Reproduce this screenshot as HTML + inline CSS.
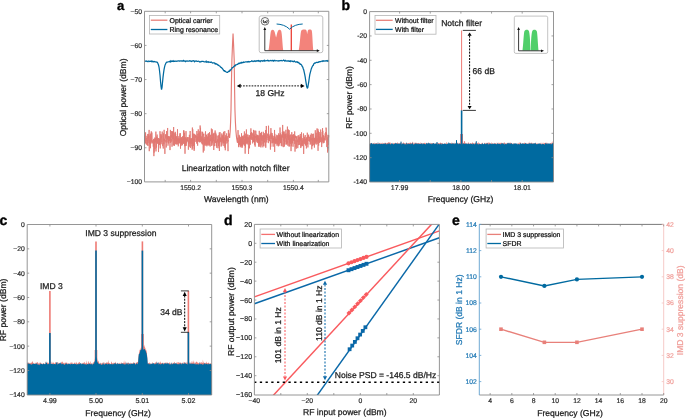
<!DOCTYPE html>
<html><head><meta charset="utf-8"><style>
html,body{margin:0;padding:0;background:#fff;}
svg{display:block;will-change:transform;}
text{font-family:"Liberation Sans", sans-serif;text-rendering:geometricPrecision;}
</style></head><body>
<svg width="685" height="418" viewBox="0 0 685 418">
<rect width="685" height="418" fill="#fff"/>
<text x="116.9" y="10.1" font-size="13" font-weight="bold" fill="#000" stroke="#000" stroke-width="0.35">a</text>
<path d="M144.5 138.4 L144.63 141.56 L144.75 135.66 L144.88 138.62 L145 143.76 L145.13 140.55 L145.25 132.71 L145.38 143.07 L145.5 132.65 L145.63 132.45 L145.75 140.87 L145.88 139.45 L146 140.92 L146.13 141.3 L146.25 141.98 L146.38 144.63 L146.5 138.33 L146.63 139.33 L146.75 137.95 L146.88 135.88 L147 136.52 L147.13 140.86 L147.25 140.07 L147.38 145.25 L147.5 139.49 L147.63 136.59 L147.75 133.96 L147.88 143.39 L148 145.92 L148.13 141.53 L148.25 142.59 L148.38 137.58 L148.5 136.15 L148.63 137.96 L148.75 134.19 L148.88 141.17 L149 132.42 L149.13 129.91 L149.25 151.18 L149.38 144.29 L149.5 141.37 L149.63 141.29 L149.75 140.42 L149.88 144.47 L150 135.49 L150.13 142.06 L150.25 142.63 L150.38 137.98 L150.5 148.21 L150.63 133.67 L150.75 140.89 L150.88 143.54 L151 140.57 L151.13 140.99 L151.25 131.37 L151.38 136.56 L151.5 136.14 L151.63 136.56 L151.75 142.3 L151.88 132.55 L152 139.23 L152.13 141.93 L152.25 143.37 L152.38 141.99 L152.5 140.94 L152.63 140.9 L152.75 140.28 L152.88 141.62 L153 142.79 L153.13 143.46 L153.25 146.68 L153.38 146.54 L153.5 139.27 L153.63 141.19 L153.75 140.32 L153.88 156.13 L154 138.79 L154.13 152.56 L154.25 149.19 L154.38 140 L154.5 139.45 L154.63 142.97 L154.75 141.8 L154.88 137.54 L155 149.14 L155.13 140.41 L155.25 140.99 L155.38 138.25 L155.5 142.15 L155.63 141.38 L155.75 137.58 L155.88 131.61 L156 151.4 L156.13 140.46 L156.25 141.62 L156.38 143.92 L156.5 147.6 L156.63 136.63 L156.75 141.77 L156.88 139.6 L157 142.62 L157.13 134.55 L157.25 142.14 L157.38 137.67 L157.5 137.94 L157.63 143.77 L157.75 142.26 L157.88 143.1 L158 142.03 L158.13 139.06 L158.25 139.12 L158.38 138.03 L158.5 152.06 L158.63 142.17 L158.75 145.19 L158.88 139.41 L159 141.93 L159.13 144.19 L159.25 138.43 L159.38 139.5 L159.5 144.37 L159.63 139.07 L159.75 144.64 L159.88 138.67 L160 131.22 L160.13 140.07 L160.25 148.4 L160.38 141.22 L160.5 140.21 L160.63 135.84 L160.75 134.24 L160.88 138.52 L161 140.99 L161.13 144.24 L161.25 134.51 L161.38 138.28 L161.5 137.18 L161.63 137.7 L161.75 136.01 L161.88 142.32 L162 138.17 L162.13 132.82 L162.25 131.62 L162.38 137.15 L162.5 143.92 L162.63 143.76 L162.75 146.14 L162.88 143.36 L163.01 144.31 L163.13 145.98 L163.26 148.54 L163.38 133.35 L163.51 136.73 L163.63 143.34 L163.76 142.79 L163.88 144.17 L164.01 141.64 L164.13 129.82 L164.26 139.66 L164.38 140.65 L164.51 138.85 L164.63 140.2 L164.76 142.19 L164.88 153.89 L165.01 139.97 L165.13 142.36 L165.26 141.53 L165.38 137.29 L165.51 134.4 L165.63 137.39 L165.76 138.46 L165.88 136.08 L166.01 135.15 L166.13 134.51 L166.26 147.47 L166.38 143.3 L166.51 131.1 L166.63 136.86 L166.76 136.92 L166.88 139.37 L167.01 142.47 L167.13 140.69 L167.26 140.02 L167.38 136.4 L167.51 139.32 L167.63 127.98 L167.76 137.2 L167.88 138.87 L168.01 145.63 L168.13 144.36 L168.26 141.72 L168.38 136.09 L168.51 143.34 L168.63 139.17 L168.76 136.82 L168.88 136.4 L169.01 140.6 L169.13 140.65 L169.26 140.39 L169.38 140.95 L169.51 137.86 L169.63 136.51 L169.76 137.11 L169.88 140.02 L170.01 150.08 L170.13 136.77 L170.26 142.82 L170.38 129.88 L170.51 134.56 L170.63 140.1 L170.76 142.53 L170.88 139.41 L171.01 140.14 L171.13 139.51 L171.26 134.96 L171.38 136.69 L171.51 137.47 L171.63 131.02 L171.76 141.57 L171.88 139.01 L172.01 146.73 L172.13 141.34 L172.26 138.46 L172.38 131.75 L172.51 131.43 L172.63 138.99 L172.76 131.72 L172.88 134.83 L173.01 139.33 L173.13 140.22 L173.26 145.36 L173.38 143.97 L173.51 134.85 L173.63 127.01 L173.76 139.14 L173.88 134.35 L174.01 145.33 L174.13 141.9 L174.26 138.55 L174.38 145.8 L174.51 143.94 L174.63 138.49 L174.76 136.38 L174.88 132.82 L175.01 141.27 L175.13 140.32 L175.26 131.84 L175.38 144.25 L175.51 136.29 L175.63 133.71 L175.76 134.71 L175.88 138.8 L176.01 141.43 L176.13 137.6 L176.26 143.82 L176.38 139.81 L176.51 136.24 L176.63 140.35 L176.76 140.67 L176.88 144.6 L177.01 141.46 L177.13 138.74 L177.26 144.23 L177.38 135.23 L177.51 129.22 L177.63 139.51 L177.76 138.71 L177.88 141.59 L178.01 139.59 L178.13 139.27 L178.26 146.32 L178.38 145.92 L178.51 138.54 L178.63 143.37 L178.76 136.26 L178.88 137.5 L179.01 141.39 L179.13 140.16 L179.26 142.46 L179.38 138.4 L179.51 141.09 L179.63 143.33 L179.76 141.86 L179.88 134.32 L180.01 133.46 L180.13 137.71 L180.26 133.19 L180.38 141.81 L180.51 148.68 L180.63 142.6 L180.76 137.86 L180.88 142.66 L181.01 139.42 L181.13 145.79 L181.26 137.87 L181.39 141.37 L181.51 143.85 L181.64 137.19 L181.76 144.36 L181.89 139.79 L182.01 143.06 L182.14 141.94 L182.26 139.65 L182.39 145.25 L182.51 136.33 L182.64 142.17 L182.76 139.2 L182.89 141.23 L183.01 143.4 L183.14 143.45 L183.26 140.7 L183.39 143.2 L183.51 130.44 L183.64 143.43 L183.76 141.08 L183.89 140.19 L184.01 130.51 L184.14 140.97 L184.26 143.75 L184.39 132.9 L184.51 141.92 L184.64 141.58 L184.76 146.21 L184.89 137.73 L185.01 153.74 L185.14 141.47 L185.26 145.27 L185.39 137.25 L185.51 140.04 L185.64 145.93 L185.76 144.62 L185.89 142.24 L186.01 131.14 L186.14 145.58 L186.26 145.8 L186.39 138.59 L186.51 140.39 L186.64 143.17 L186.76 139.78 L186.89 140.89 L187.01 137.31 L187.14 141.6 L187.26 140.23 L187.39 141.13 L187.51 138.94 L187.64 137.57 L187.76 137.26 L187.89 139.95 L188.01 141.29 L188.14 137.33 L188.26 137.19 L188.39 149.7 L188.51 140.7 L188.64 144.17 L188.76 142.45 L188.89 143.21 L189.01 140.78 L189.14 140.97 L189.26 146.73 L189.39 134.82 L189.51 143.21 L189.64 138.34 L189.76 139.83 L189.89 138.8 L190.01 137.24 L190.14 130.99 L190.26 133.7 L190.39 147.99 L190.51 140.77 L190.64 143.45 L190.76 138.53 L190.89 140.24 L191.01 142.03 L191.14 138.36 L191.26 143.79 L191.39 140.42 L191.51 140.66 L191.64 139.86 L191.76 139.27 L191.89 146.34 L192.01 138.08 L192.14 149.71 L192.26 138.74 L192.39 127.55 L192.51 144.47 L192.64 148.41 L192.76 129.24 L192.89 140.97 L193.01 139.32 L193.14 143.68 L193.26 142.33 L193.39 146.02 L193.51 140.06 L193.64 133.69 L193.76 134.59 L193.89 144.66 L194.01 139.23 L194.14 150.85 L194.26 133.86 L194.39 149.32 L194.51 138.92 L194.64 140.77 L194.76 137.92 L194.89 134.7 L195.01 134.53 L195.14 134.76 L195.26 137.88 L195.39 137.14 L195.51 135.29 L195.64 137.27 L195.76 138.91 L195.89 141.92 L196.01 135.61 L196.14 137.08 L196.26 135.81 L196.39 138.63 L196.51 140.65 L196.64 138.62 L196.76 143.6 L196.89 131.03 L197.01 140.61 L197.14 140.46 L197.26 142.21 L197.39 136.93 L197.51 138.15 L197.64 145.68 L197.76 133.87 L197.89 135.31 L198.01 140.28 L198.14 140.67 L198.26 129.38 L198.39 136.24 L198.51 139.88 L198.64 141.72 L198.76 137.04 L198.89 138 L199.01 132.86 L199.14 136.6 L199.26 136.99 L199.39 134.43 L199.51 141.78 L199.64 137.35 L199.76 131.28 L199.89 142.47 L200.02 140.51 L200.14 125.49 L200.27 131.6 L200.39 141.84 L200.52 127.75 L200.64 138.92 L200.77 139.82 L200.89 137.37 L201.02 136.02 L201.14 138.25 L201.27 140.07 L201.39 137.43 L201.52 140.97 L201.64 137.75 L201.77 142.97 L201.89 137.6 L202.02 131.55 L202.14 144.07 L202.27 142.17 L202.39 144.42 L202.52 142.72 L202.64 132 L202.77 134.35 L202.89 141.27 L203.02 138.48 L203.14 144.95 L203.27 152.5 L203.39 135.75 L203.52 134.19 L203.64 135.37 L203.77 133.67 L203.89 141.04 L204.02 150.7 L204.14 139.9 L204.27 139.11 L204.39 145.41 L204.52 140.48 L204.64 142.7 L204.77 136.89 L204.89 139.3 L205.02 144.19 L205.14 140.05 L205.27 139.43 L205.39 133.77 L205.52 131.38 L205.64 145.63 L205.77 145.31 L205.89 138.52 L206.02 143.44 L206.14 138.17 L206.27 142.41 L206.39 144.98 L206.52 134.7 L206.64 144.35 L206.77 137.64 L206.89 146.29 L207.02 141.32 L207.14 137.54 L207.27 138.44 L207.39 139.96 L207.52 144.66 L207.64 136.58 L207.77 139.45 L207.89 137.05 L208.02 133.76 L208.14 145.51 L208.27 140.53 L208.39 137.84 L208.52 133.39 L208.64 143.7 L208.77 135.78 L208.89 137.42 L209.02 142.27 L209.14 145.35 L209.27 139.18 L209.39 145.19 L209.52 132.15 L209.64 136.35 L209.77 136.16 L209.89 136.54 L210.02 141.46 L210.14 146.52 L210.27 138.33 L210.39 141.08 L210.52 134.84 L210.64 136.86 L210.77 137.45 L210.89 140 L211.02 140.76 L211.14 141.18 L211.27 140.56 L211.39 128.56 L211.52 136.25 L211.64 138.34 L211.77 145.98 L211.89 137.28 L212.02 144.73 L212.14 141.27 L212.27 129.34 L212.39 142.49 L212.52 141.67 L212.64 142.12 L212.77 135.27 L212.89 134.19 L213.02 139.65 L213.14 141.3 L213.27 139.99 L213.39 139.66 L213.52 133.54 L213.64 141.61 L213.77 150.02 L213.89 142.02 L214.02 137.52 L214.14 132.77 L214.27 136.1 L214.39 138.8 L214.52 139.71 L214.64 146.14 L214.77 140.82 L214.89 139.82 L215.02 139.95 L215.14 130.48 L215.27 143.03 L215.39 137.87 L215.52 136.09 L215.64 135.78 L215.77 132.7 L215.89 141.91 L216.02 134.34 L216.14 142.96 L216.27 141.8 L216.39 146.01 L216.52 141.05 L216.64 141.22 L216.77 147.83 L216.89 142.35 L217.02 136.26 L217.14 135.76 L217.27 137.21 L217.39 138.4 L217.52 141.67 L217.64 139.55 L217.77 142.34 L217.89 139.84 L218.02 148.27 L218.14 142.21 L218.27 143.14 L218.4 135.34 L218.52 146.14 L218.65 144.48 L218.77 139.75 L218.9 140.89 L219.02 139.66 L219.15 136.65 L219.27 132.48 L219.4 150.99 L219.52 133.97 L219.65 143.21 L219.77 137.68 L219.9 139.78 L220.02 132.14 L220.15 138.17 L220.27 140.81 L220.4 140.37 L220.52 141.17 L220.65 137.9 L220.77 141.96 L220.9 137.61 L221.02 141.77 L221.15 146.56 L221.27 139.25 L221.4 139.07 L221.52 141.65 L221.65 134.7 L221.77 133.5 L221.9 145.59 L222.02 143.03 L222.15 140.7 L222.27 136.24 L222.4 140.2 L222.52 135.32 L222.65 141.43 L222.77 137.89 L222.9 137.15 L223.02 143.49 L223.15 135.1 L223.27 133.57 L223.4 142.76 L223.52 131.8 L223.65 142.09 L223.77 138.03 L223.9 146.1 L224.02 141.75 L224.15 142.58 L224.27 141.93 L224.4 143.07 L224.52 139.7 L224.65 138.06 L224.77 131.13 L224.9 147.74 L225.02 137.4 L225.15 140.95 L225.27 150.25 L225.4 143.75 L225.52 138.14 L225.65 135.27 L225.77 143.29 L225.9 144.11 L226.02 143.39 L226.15 137.36 L226.27 137.12 L226.4 141.11 L226.52 140.65 L226.65 133.38 L226.77 136.82 L226.9 136.14 L227.02 143.12 L227.15 142.08 L227.27 137.46 L227.4 137.32 L227.52 136.53 L227.65 136.64 L227.77 141.98 L227.9 144.98 L228.02 151.13 L228.15 140.21 L228.27 141.42 L228.4 129.93 L228.52 134.9 L228.65 137.14 L228.77 134.5 L228.9 133.52" stroke="#e27771" stroke-width="0.85" fill="none"/>
<path d="M237.4 142.42 L237.53 138.87 L237.65 139.95 L237.78 137.72 L237.9 142.9 L238.03 130.12 L238.15 134.28 L238.28 142.91 L238.4 140.97 L238.53 146.57 L238.65 141.36 L238.78 147.18 L238.9 144.85 L239.03 145.14 L239.15 134.83 L239.28 141.03 L239.4 136.5 L239.53 144.72 L239.65 136.72 L239.78 140.77 L239.9 142.03 L240.03 136.8 L240.15 137.91 L240.28 142.36 L240.4 146.73 L240.53 140.3 L240.65 138.71 L240.78 144.66 L240.9 138.14 L241.03 136.98 L241.15 147.47 L241.28 142.99 L241.4 145.22 L241.53 133.24 L241.65 146.05 L241.78 138.56 L241.9 142.23 L242.03 142.71 L242.15 145.48 L242.28 147.67 L242.4 144.76 L242.53 136.88 L242.65 146.11 L242.78 135.98 L242.9 138.68 L243.03 135.75 L243.15 144.34 L243.28 136.98 L243.4 143.56 L243.53 144.18 L243.65 143.45 L243.78 144.28 L243.9 140.84 L244.03 140.18 L244.15 134.94 L244.28 138.22 L244.4 131.45 L244.53 145.65 L244.65 139.91 L244.78 139.82 L244.9 143.91 L245.03 139.04 L245.15 153.68 L245.28 141.42 L245.4 136.27 L245.53 147.5 L245.65 133.63 L245.78 139.45 L245.9 135.97 L246.03 143.01 L246.15 142.53 L246.28 136.88 L246.4 129.44 L246.53 140.11 L246.65 138.81 L246.78 143.68 L246.9 135.79 L247.03 135.15 L247.15 144.4 L247.28 137.13 L247.4 143.17 L247.53 140.61 L247.65 136.54 L247.78 134.43 L247.9 136.2 L248.03 136.61 L248.15 139.26 L248.28 137.87 L248.4 140.58 L248.53 154 L248.65 145.53 L248.78 137.31 L248.9 141.57 L249.03 135.22 L249.15 137.17 L249.28 142.01 L249.4 141.56 L249.53 148.3 L249.65 142.25 L249.78 135.26 L249.9 144.27 L250.03 140.57 L250.15 144.81 L250.28 139.61 L250.4 138.41 L250.53 133.1 L250.65 139.26 L250.78 138.18 L250.9 128.39 L251.03 138.47 L251.15 139.75 L251.28 137.37 L251.4 138.14 L251.53 132.09 L251.65 135.47 L251.78 135.24 L251.9 139.6 L252.03 132.75 L252.15 135.4 L252.28 133.66 L252.4 139.45 L252.53 137.29 L252.65 143.37 L252.78 141.13 L252.9 138.65 L253.03 137.58 L253.15 136.06 L253.28 135.02 L253.4 141.78 L253.53 129.91 L253.65 139.12 L253.78 140.87 L253.9 141.17 L254.03 136.16 L254.15 142.11 L254.28 134.51 L254.4 142.38 L254.53 136.73 L254.65 145.19 L254.78 130.54 L254.9 134.41 L255.03 141.75 L255.16 146.66 L255.28 141.18 L255.41 136.16 L255.53 137.66 L255.66 135.44 L255.78 130.71 L255.91 132.09 L256.03 136.56 L256.16 141.68 L256.28 137.68 L256.41 136.18 L256.53 139.48 L256.66 140.03 L256.78 134.43 L256.91 139.22 L257.03 135.82 L257.16 142.49 L257.28 135.44 L257.41 139.71 L257.53 141.17 L257.66 135.22 L257.78 142.65 L257.91 139.35 L258.03 139.59 L258.16 143.14 L258.28 142.14 L258.41 135.45 L258.53 145.8 L258.66 146.7 L258.78 137.98 L258.91 137.94 L259.03 145.55 L259.16 139.24 L259.28 130.87 L259.41 141.06 L259.53 139.02 L259.66 143.33 L259.78 140 L259.91 146.84 L260.03 135.39 L260.16 136.65 L260.28 139.54 L260.41 132.89 L260.53 135.96 L260.66 134.76 L260.78 141.03 L260.91 147.41 L261.03 138.08 L261.16 145.5 L261.28 133.11 L261.41 139.67 L261.53 131.92 L261.66 140.35 L261.78 138.97 L261.91 136.65 L262.03 135.08 L262.16 141.04 L262.28 140.4 L262.41 135.69 L262.53 138.46 L262.66 137.88 L262.78 137.58 L262.91 147.32 L263.03 140.27 L263.16 143.92 L263.28 131.79 L263.41 145.9 L263.53 143.57 L263.66 134.61 L263.78 139.28 L263.91 136.61 L264.03 136.55 L264.16 137.02 L264.28 133.13 L264.41 137.77 L264.53 142.42 L264.66 140.2 L264.78 135.1 L264.91 134.56 L265.03 146.31 L265.16 146.41 L265.28 141.31 L265.41 134.94 L265.53 138.76 L265.66 130.02 L265.78 147.79 L265.91 141.1 L266.03 140.29 L266.16 137.85 L266.28 126.12 L266.41 125.97 L266.53 140.29 L266.66 140.13 L266.78 142.45 L266.91 136.42 L267.03 137.48 L267.16 137.82 L267.28 135.85 L267.41 134.78 L267.53 135.49 L267.66 133.64 L267.78 134.38 L267.91 139.02 L268.03 140.03 L268.16 138.36 L268.28 137.26 L268.41 143.12 L268.53 125.74 L268.66 130.45 L268.78 139.91 L268.91 140.64 L269.03 135.32 L269.16 138.43 L269.28 138.55 L269.41 136.72 L269.53 138.61 L269.66 141.22 L269.78 136.15 L269.91 138.88 L270.03 137.43 L270.16 133.99 L270.28 139.09 L270.41 149.58 L270.53 140.36 L270.66 141.47 L270.78 146.82 L270.91 128.13 L271.03 136.48 L271.16 132.74 L271.28 138.16 L271.41 138.84 L271.53 137.89 L271.66 135.81 L271.78 139.13 L271.91 142.75 L272.03 143.35 L272.16 133.11 L272.28 136.22 L272.41 142.99 L272.53 137.7 L272.66 135.21 L272.78 138.62 L272.91 137.69 L273.03 141.89 L273.16 146.68 L273.28 138.47 L273.41 140.14 L273.54 138.26 L273.66 142.23 L273.79 138.15 L273.91 136.09 L274.04 143.22 L274.16 138.59 L274.29 139.42 L274.41 141.06 L274.54 129.96 L274.66 151.93 L274.79 133.82 L274.91 138.07 L275.04 136.55 L275.16 137.26 L275.29 137.37 L275.41 142.74 L275.54 138.51 L275.66 143.55 L275.79 143.33 L275.91 139.02 L276.04 144.12 L276.16 141.11 L276.29 141.09 L276.41 138.84 L276.54 142.55 L276.66 142.58 L276.79 134.82 L276.91 141.53 L277.04 145.73 L277.16 136.08 L277.29 136.58 L277.41 140.45 L277.54 144.41 L277.66 143.39 L277.79 139.86 L277.91 135.1 L278.04 137.91 L278.16 137.58 L278.29 146.33 L278.41 142.61 L278.54 136.36 L278.66 133.33 L278.79 142.01 L278.91 146.04 L279.04 137.83 L279.16 135.83 L279.29 144.44 L279.41 141.65 L279.54 135.04 L279.66 139.78 L279.79 134.84 L279.91 141.31 L280.04 127.49 L280.16 135.32 L280.29 136.97 L280.41 133.19 L280.54 142.96 L280.66 136.14 L280.79 142.49 L280.91 138.3 L281.04 143.31 L281.16 136.21 L281.29 145.83 L281.41 136.88 L281.54 140.22 L281.66 134.49 L281.79 136.82 L281.91 135.74 L282.04 146.32 L282.16 140.47 L282.29 131.92 L282.41 134.8 L282.54 137.29 L282.66 124.95 L282.79 135.66 L282.91 137.54 L283.04 135.4 L283.16 133.21 L283.29 147.13 L283.41 142.32 L283.54 141.39 L283.66 131.52 L283.79 135.26 L283.91 133.69 L284.04 141.12 L284.16 131.59 L284.29 137.56 L284.41 146.56 L284.54 137.91 L284.66 143.88 L284.79 135.05 L284.91 142.17 L285.04 136.11 L285.16 134.02 L285.29 138.5 L285.41 135.02 L285.54 134.75 L285.66 138.02 L285.79 137.88 L285.91 129.8 L286.04 144.65 L286.16 133.53 L286.29 135.59 L286.41 135.67 L286.54 137.65 L286.66 144.05 L286.79 138.58 L286.91 142.49 L287.04 144.42 L287.16 141.03 L287.29 143.01 L287.41 126.61 L287.54 137.23 L287.66 137.77 L287.79 134.85 L287.91 145.78 L288.04 143.76 L288.16 134.71 L288.29 139.81 L288.41 129.53 L288.54 133.38 L288.66 138.53 L288.79 139.75 L288.91 135.04 L289.04 146.57 L289.16 130.19 L289.29 132.25 L289.41 138.68 L289.54 142.56 L289.66 135.45 L289.79 146.28 L289.91 138.59 L290.04 141.01 L290.16 141.82 L290.29 137.88 L290.41 134.52 L290.54 137.63 L290.66 143.96 L290.79 143.84 L290.91 139.69 L291.04 151.13 L291.16 137.19 L291.29 140.5 L291.41 137.54 L291.54 146.23 L291.66 142.33 L291.79 132.16 L291.91 137.83 L292.04 134.6 L292.17 143.16 L292.29 137.07 L292.42 142.92 L292.54 143.26 L292.67 135.22 L292.79 136.52 L292.92 140.53 L293.04 146.69 L293.17 135.47 L293.29 137.76 L293.42 135.72 L293.54 134.21 L293.67 140.86 L293.79 139.99 L293.92 137.66 L294.04 137.02 L294.17 135.28 L294.29 138.73 L294.42 139.07 L294.54 140.88 L294.67 131.42 L294.79 143.93 L294.92 140.23 L295.04 151.62 L295.17 136.89 L295.29 135.61 L295.42 137.93 L295.54 135.98 L295.67 137.15 L295.79 137.08 L295.92 138.34 L296.04 147.38 L296.17 140.14 L296.29 148.69 L296.42 137.41 L296.54 137.12 L296.67 138.46 L296.79 136.06 L296.92 139.06 L297.04 139.33 L297.17 138.94 L297.29 140.42 L297.42 142.19 L297.54 140.18 L297.67 141.56 L297.79 148.14 L297.92 137.96 L298.04 135.53 L298.17 139.06 L298.29 141.18 L298.42 145.15 L298.54 136.81 L298.67 136.39 L298.79 136.29 L298.92 135.14 L299.04 141.72 L299.17 139.7 L299.29 138.41 L299.42 139.3 L299.54 144.83 L299.67 136.72 L299.79 138.89 L299.92 137.42 L300.04 141.23 L300.17 138.18 L300.29 133.95 L300.42 135.43 L300.54 139.45 L300.67 137.3 L300.79 148.04 L300.92 136.17 L301.04 146.5 L301.17 142.95 L301.29 145.33 L301.42 140.83 L301.54 132.37 L301.67 138.3 L301.79 142.25 L301.92 142.21 L302.04 146.18 L302.17 138.09 L302.29 144.3 L302.42 140.75 L302.54 140.49 L302.67 145.88 L302.79 143.55 L302.92 143.97 L303.04 143.3 L303.17 139.81 L303.29 140.19 L303.42 133.69 L303.54 133.47 L303.67 153.96 L303.79 142.64 L303.92 139.66 L304.04 142.94 L304.17 142.67 L304.29 139.34 L304.42 140.29 L304.54 136.83 L304.67 138.81 L304.79 144.05 L304.92 141.99 L305.04 137.87 L305.17 135.26 L305.29 135.06 L305.42 145.04 L305.54 138.92 L305.67 138.89 L305.79 145.7 L305.92 142.85 L306.04 144.36 L306.17 144.84 L306.29 141.67 L306.42 148.43 L306.54 140.71 L306.67 137.59 L306.79 142.09 L306.92 137.3 L307.04 142.35 L307.17 144.66 L307.29 132.69 L307.42 135.63 L307.54 142.42 L307.67 143.69 L307.79 142.41 L307.92 147.45 L308.04 136.1 L308.17 135.08 L308.29 135.42 L308.42 137.87 L308.54 138.34 L308.67 134.64 L308.79 141.22 L308.92 141.23 L309.04 139.84 L309.17 138.84 L309.29 141.03 L309.42 136.74 L309.54 138.38 L309.67 138.82 L309.79 141.64 L309.92 138.49 L310.04 139.79 L310.17 144.55 L310.29 143.19 L310.42 137.57 L310.55 139.35 L310.67 134.87 L310.8 139.84 L310.92 144.23 L311.05 142.23 L311.17 138.72 L311.3 133.5 L311.42 139.87 L311.55 138.31 L311.67 145.11 L311.8 149.3 L311.92 144.76 L312.05 145.48 L312.17 139.59 L312.3 140.58 L312.42 138.06 L312.55 146.13 L312.67 133.98 L312.8 134.24 L312.92 141.66 L313.05 138.13 L313.17 140.44 L313.3 133.71 L313.42 135.18 L313.55 144.64 L313.67 145.19 L313.8 141.3 L313.92 140.42 L314.05 137.85 L314.17 139.64 L314.3 142.38 L314.42 147.61 L314.55 138.66 L314.67 141.69 L314.8 144.39 L314.92 137.9 L315.05 141.11 L315.17 136.77 L315.3 130.28 L315.42 142.3 L315.55 143.39 L315.67 141.97 L315.8 139.99 L315.92 135.75 L316.05 142.28 L316.17 132.81 L316.3 144.49 L316.42 137.93 L316.55 141.79 L316.67 141.66 L316.8 139.91 L316.92 135.61 L317.05 128.42 L317.17 138.75 L317.3 139.87 L317.42 141.33 L317.55 139.75 L317.67 138.38 L317.8 143.84 L317.92 128.92 L318.05 150.79 L318.17 140.1 L318.3 130.74 L318.42 136.39 L318.55 136.04 L318.67 145.69 L318.8 131.97 L318.92 139.46 L319.05 132.18 L319.17 135.81 L319.3 143.04 L319.42 136.95 L319.55 141.92 L319.67 136.75 L319.8 141.07 L319.92 139.11 L320.05 139.15 L320.17 133.75 L320.3 140.54 L320.42 141.92 L320.55 140.13 L320.67 129.56 L320.8 135.65 L320.92 137.25 L321.05 137.85 L321.17 142.53 L321.3 138.37 L321.42 139.71 L321.55 137.53 L321.67 147.06 L321.8 141.77 L321.92 137.83 L322.05 135.88 L322.17 132.1 L322.3 133.7 L322.42 137.57 L322.55 128.15 L322.67 141.68 L322.8 130.84 L322.92 140.55 L323.05 143.34 L323.17 141.13 L323.3 137.31 L323.42 136.15 L323.55 135.27 L323.67 142.6 L323.8 140.13 L323.92 136.21 L324.05 142.77 L324.17 137.99 L324.3 138.81 L324.42 140.04 L324.55 138.55 L324.67 137.8 L324.8 140.27 L324.92 138.87 L325.05 136.92 L325.17 133.39 L325.3 137.39 L325.42 135.76 L325.55 136.53 L325.67 137.06 L325.8 131.98 L325.92 140.35 L326.05 127.58 L326.17 129.12 L326.3 128.69 L326.42 134.83 L326.55 132.94 L326.67 139.75 L326.8 146.96 L326.92 143.33 L327.05 140.63 L327.17 142.5 L327.3 137.43 L327.42 138.17 L327.55 152.51 L327.67 139.45 L327.8 150.56 L327.92 134.83 L328.05 145.06 L328.17 140.58 L328.3 137.86 L328.42 136.46 L328.55 135.72 L328.67 135.15 L328.8 137.38" stroke="#e27771" stroke-width="0.85" fill="none"/>
<path d="M228.9 133.52 L229.6 138 L230.2 131 L230.6 122 L231 110 L231.3 90 L231.9 60 L232.5 45 L233.05 33.6 L233.6 45 L234.2 60 L234.6 90 L234.95 110 L235.4 122 L235.9 131 L236.6 138 L237.4 142.42" stroke="#e47b75" stroke-width="1.15" fill="none"/>
<path d="M144.5 61.07 L145 61.07 L145.5 61.2 L146 61.4 L146.5 61.04 L147 61.29 L147.5 61.34 L148.01 61.63 L148.51 61.11 L149.01 61.09 L149.51 61.44 L150.01 61.27 L150.51 61.17 L151.01 61.26 L151.51 61.67 L152.01 60.99 L152.51 61.36 L153.01 61.86 L153.51 61.59 L154.02 61.37 L154.52 61.49 L155.02 61.97 L155.52 61.95 L156.02 61.88 L156.52 62.03 L157.02 62.14 L157.52 62.57 L158.02 63.73 L158.52 65.06 L159.02 67.01 L159.52 70.73 L160.03 75.24 L160.53 81.44 L161.03 86.53 L161.53 89.59 L162.03 87.38 L162.53 82.26 L163.03 77.13 L163.53 73.08 L164.03 69.61 L164.53 67.03 L165.03 65.1 L165.53 63.92 L166.04 62.86 L166.54 62.38 L167.04 61.93 L167.54 62.01 L168.04 62 L168.54 61.76 L169.04 61.61 L169.54 61.77 L170.04 61.17 L170.54 61.84 L171.04 60.81 L171.54 61.43 L172.04 61.26 L172.55 61.3 L173.05 60.81 L173.55 61.45 L174.05 61.21 L174.55 61.16 L175.05 61.38 L175.55 61.14 L176.05 61.12 L176.55 61.3 L177.05 61.06 L177.55 61.16 L178.05 60.98 L178.56 60.92 L179.06 61.06 L179.56 60.91 L180.06 61.11 L180.56 60.98 L181.06 60.91 L181.56 61.01 L182.06 60.74 L182.56 61.21 L183.06 61.18 L183.56 60.47 L184.06 61.04 L184.57 60.93 L185.07 61.17 L185.57 61.54 L186.07 60.93 L186.57 61.01 L187.07 60.84 L187.57 61.13 L188.07 61.22 L188.57 61.11 L189.07 61.08 L189.57 60.8 L190.07 61.05 L190.57 60.85 L191.08 60.99 L191.58 61.47 L192.08 61.12 L192.58 60.93 L193.08 60.86 L193.58 60.76 L194.08 61.02 L194.58 61.66 L195.08 61.11 L195.58 61.13 L196.08 60.95 L196.58 61.1 L197.09 61.46 L197.59 61.49 L198.09 61.22 L198.59 61.09 L199.09 61.47 L199.59 61.88 L200.09 62.05 L200.59 61.71 L201.09 61.41 L201.59 61.6 L202.09 61.37 L202.59 61.3 L203.1 61.36 L203.6 61.56 L204.1 61.76 L204.6 61.99 L205.1 61.99 L205.6 61.83 L206.1 61.23 L206.6 62.18 L207.1 61.99 L207.6 61.76 L208.1 62.31 L208.6 61.85 L209.11 62.06 L209.61 62.21 L210.11 62.28 L210.61 62.36 L211.11 61.98 L211.61 62.24 L212.11 62.66 L212.61 62.99 L213.11 62.93 L213.61 62.79 L214.11 62.93 L214.61 63.11 L215.11 63.85 L215.62 63.53 L216.12 64.18 L216.62 63.94 L217.12 64.23 L217.62 64.6 L218.12 65.37 L218.62 65.2 L219.12 65.68 L219.62 65.96 L220.12 66.4 L220.62 67.21 L221.12 67.29 L221.63 67.89 L222.13 68.16 L222.63 68.82 L223.13 69.57 L223.63 70.45 L224.13 71.05 L224.63 70.79 L225.13 71.46 L225.63 71.42 L226.13 72.04 L226.63 72.28 L227.13 72.45 L227.64 72.32 L228.14 71.74 L228.64 71.38 L229.14 70.92 L229.64 71.22 L230.14 70 L230.64 70.01 L231.14 69.29 L231.64 68.91 L232.14 67.74 L232.64 67.73 L233.14 67.24 L233.65 66.68 L234.15 66.37 L234.65 65.57 L235.15 65.84 L235.65 64.87 L236.15 64.79 L236.65 64.75 L237.15 64.4 L237.65 64.41 L238.15 63.79 L238.65 63.32 L239.15 63.49 L239.65 63.35 L240.16 62.66 L240.66 63.13 L241.16 63.08 L241.66 62.44 L242.16 62.75 L242.66 62.44 L243.16 62.55 L243.66 62.09 L244.16 62.34 L244.66 62.22 L245.16 61.99 L245.66 61.82 L246.17 61.8 L246.67 61.94 L247.17 62.07 L247.67 61.62 L248.17 61.82 L248.67 61.58 L249.17 61.98 L249.67 61.76 L250.17 61.62 L250.67 61.49 L251.17 61.22 L251.67 60.92 L252.18 61.48 L252.68 61.07 L253.18 61.06 L253.68 61.45 L254.18 61.24 L254.68 60.87 L255.18 61.41 L255.68 61.02 L256.18 61.31 L256.68 60.78 L257.18 60.66 L257.68 60.86 L258.19 61.19 L258.69 60.47 L259.19 60.69 L259.69 61.18 L260.19 61.55 L260.69 60.86 L261.19 60.66 L261.69 60.77 L262.19 60.68 L262.69 61.24 L263.19 61.03 L263.69 60.62 L264.19 61.04 L264.7 60.28 L265.2 60.82 L265.7 60.8 L266.2 60.74 L266.7 60.55 L267.2 60.62 L267.7 60.3 L268.2 60.88 L268.7 60.51 L269.2 60.89 L269.7 60.95 L270.2 60.57 L270.71 60.44 L271.21 60.75 L271.71 60.9 L272.21 60.4 L272.71 60.71 L273.21 60.48 L273.71 61.09 L274.21 60.82 L274.71 60.32 L275.21 60.59 L275.71 60.74 L276.21 60.61 L276.72 60.75 L277.22 60.83 L277.72 60.78 L278.22 60.63 L278.72 61.1 L279.22 60.97 L279.72 60.67 L280.22 60.72 L280.72 60.6 L281.22 60.41 L281.72 60.69 L282.22 60.79 L282.73 60.7 L283.23 60.56 L283.73 60.05 L284.23 60.38 L284.73 61.04 L285.23 60.39 L285.73 61 L286.23 61.06 L286.73 60.87 L287.23 60.92 L287.73 61.14 L288.23 60.95 L288.73 60.97 L289.24 61.23 L289.74 61.03 L290.24 61.57 L290.74 60.83 L291.24 61.05 L291.74 61.12 L292.24 61.28 L292.74 61.12 L293.24 61.82 L293.74 61.57 L294.24 61.02 L294.74 61.56 L295.25 61.83 L295.75 62.06 L296.25 61.98 L296.75 61.81 L297.25 62.36 L297.75 62 L298.25 62.56 L298.75 62.47 L299.25 63.37 L299.75 63.53 L300.25 64.27 L300.75 64.12 L301.26 64.72 L301.76 65.29 L302.26 66.52 L302.76 66.99 L303.26 68.71 L303.76 70.05 L304.26 72.32 L304.76 74.68 L305.26 77.41 L305.76 80.88 L306.26 83.94 L306.76 86.83 L307.26 88.03 L307.77 87.57 L308.27 84.7 L308.77 81.53 L309.27 78 L309.77 74.68 L310.27 72.59 L310.77 70.85 L311.27 68.87 L311.77 67.71 L312.27 66.49 L312.77 65.74 L313.27 65.32 L313.78 63.82 L314.28 63.6 L314.78 63 L315.28 63.05 L315.78 62.67 L316.28 62.34 L316.78 62.43 L317.28 62.6 L317.78 62.32 L318.28 62.29 L318.78 61.76 L319.28 61.73 L319.79 61.89 L320.29 61.69 L320.79 61.61 L321.29 61.22 L321.79 61.13 L322.29 61.01 L322.79 61.44 L323.29 60.87 L323.79 61.08 L324.29 61.07 L324.79 60.94 L325.29 60.86 L325.8 61.01 L326.3 60.69 L326.8 60.88 L327.3 61.15 L327.8 60.66 L328.3 61.07 L328.8 61.07" stroke="#006aa0" stroke-width="1.25" fill="none"/>
<line x1="144.5" y1="11.3" x2="328.8" y2="11.3" stroke="#8a8a8a" stroke-width="0.9"/>
<line x1="144.5" y1="181.9" x2="328.8" y2="181.9" stroke="#8a8a8a" stroke-width="0.9"/>
<line x1="144.5" y1="11.3" x2="144.5" y2="181.9" stroke="#8a8a8a" stroke-width="0.9"/>
<line x1="328.8" y1="11.3" x2="328.8" y2="181.9" stroke="#8a8a8a" stroke-width="0.9"/>
<line x1="165.2" y1="181.9" x2="165.2" y2="179.9" stroke="#8a8a8a" stroke-width="0.8"/>
<line x1="165.2" y1="11.3" x2="165.2" y2="13.3" stroke="#8a8a8a" stroke-width="0.8"/>
<line x1="190.6" y1="181.9" x2="190.6" y2="179.9" stroke="#8a8a8a" stroke-width="0.8"/>
<line x1="190.6" y1="11.3" x2="190.6" y2="13.3" stroke="#8a8a8a" stroke-width="0.8"/>
<line x1="216.3" y1="181.9" x2="216.3" y2="179.9" stroke="#8a8a8a" stroke-width="0.8"/>
<line x1="216.3" y1="11.3" x2="216.3" y2="13.3" stroke="#8a8a8a" stroke-width="0.8"/>
<line x1="242" y1="181.9" x2="242" y2="179.9" stroke="#8a8a8a" stroke-width="0.8"/>
<line x1="242" y1="11.3" x2="242" y2="13.3" stroke="#8a8a8a" stroke-width="0.8"/>
<line x1="267.7" y1="181.9" x2="267.7" y2="179.9" stroke="#8a8a8a" stroke-width="0.8"/>
<line x1="267.7" y1="11.3" x2="267.7" y2="13.3" stroke="#8a8a8a" stroke-width="0.8"/>
<line x1="293.4" y1="181.9" x2="293.4" y2="179.9" stroke="#8a8a8a" stroke-width="0.8"/>
<line x1="293.4" y1="11.3" x2="293.4" y2="13.3" stroke="#8a8a8a" stroke-width="0.8"/>
<line x1="318.3" y1="181.9" x2="318.3" y2="179.9" stroke="#8a8a8a" stroke-width="0.8"/>
<line x1="318.3" y1="11.3" x2="318.3" y2="13.3" stroke="#8a8a8a" stroke-width="0.8"/>
<line x1="144.5" y1="45.42" x2="146.5" y2="45.42" stroke="#8a8a8a" stroke-width="0.8"/>
<line x1="328.8" y1="45.42" x2="326.8" y2="45.42" stroke="#8a8a8a" stroke-width="0.8"/>
<line x1="144.5" y1="79.54" x2="146.5" y2="79.54" stroke="#8a8a8a" stroke-width="0.8"/>
<line x1="328.8" y1="79.54" x2="326.8" y2="79.54" stroke="#8a8a8a" stroke-width="0.8"/>
<line x1="144.5" y1="113.66" x2="146.5" y2="113.66" stroke="#8a8a8a" stroke-width="0.8"/>
<line x1="328.8" y1="113.66" x2="326.8" y2="113.66" stroke="#8a8a8a" stroke-width="0.8"/>
<line x1="144.5" y1="147.78" x2="146.5" y2="147.78" stroke="#8a8a8a" stroke-width="0.8"/>
<line x1="328.8" y1="147.78" x2="326.8" y2="147.78" stroke="#8a8a8a" stroke-width="0.8"/>
<text x="142" y="13.7" font-size="6.8" text-anchor="end" fill="#2b2b2b" stroke="#2b2b2b" stroke-width="0.2" font-weight="normal">−50</text>
<text x="142" y="47.82" font-size="6.8" text-anchor="end" fill="#2b2b2b" stroke="#2b2b2b" stroke-width="0.2" font-weight="normal">−60</text>
<text x="142" y="81.94" font-size="6.8" text-anchor="end" fill="#2b2b2b" stroke="#2b2b2b" stroke-width="0.2" font-weight="normal">−70</text>
<text x="142" y="116.06" font-size="6.8" text-anchor="end" fill="#2b2b2b" stroke="#2b2b2b" stroke-width="0.2" font-weight="normal">−80</text>
<text x="142" y="150.18" font-size="6.8" text-anchor="end" fill="#2b2b2b" stroke="#2b2b2b" stroke-width="0.2" font-weight="normal">−90</text>
<text x="142" y="184.3" font-size="6.8" text-anchor="end" fill="#2b2b2b" stroke="#2b2b2b" stroke-width="0.2" font-weight="normal">−100</text>
<text x="190.6" y="190" font-size="6.8" text-anchor="middle" fill="#2b2b2b" stroke="#2b2b2b" stroke-width="0.2" font-weight="normal">1550.2</text>
<text x="242" y="190" font-size="6.8" text-anchor="middle" fill="#2b2b2b" stroke="#2b2b2b" stroke-width="0.2" font-weight="normal">1550.3</text>
<text x="293.4" y="190" font-size="6.8" text-anchor="middle" fill="#2b2b2b" stroke="#2b2b2b" stroke-width="0.2" font-weight="normal">1550.4</text>
<text x="236.3" y="202" font-size="8.55" text-anchor="middle" fill="#1a1a1a" stroke="#1a1a1a" stroke-width="0.25" font-weight="normal">Wavelength (nm)</text>
<text x="125.6" y="97.4" font-size="8.55" text-anchor="middle" fill="#1a1a1a" stroke="#1a1a1a" stroke-width="0.25" font-weight="normal" transform="rotate(-90 125.6 97.4)">Optical power (dBm)</text>
<text x="235.6" y="171.4" font-size="8.55" text-anchor="middle" fill="#1a1a1a" stroke="#1a1a1a" stroke-width="0.25" font-weight="normal">Linearization with notch filter</text>
<line x1="240.2" y1="85.9" x2="301.4" y2="85.9" stroke="#000" stroke-width="0.95" stroke-dasharray="1.7 1.15"/>
<path d="M236.8 85.9 L240.6 83.8 L240.6 88Z" fill="#000"/>
<path d="M304.6 85.9 L300.8 83.8 L300.8 88Z" fill="#000"/>
<text x="270" y="96" font-size="8.55" text-anchor="middle" fill="#1a1a1a" stroke="#1a1a1a" stroke-width="0.25" font-weight="normal">18 GHz</text>
<rect x="149.4" y="15.5" width="70.3" height="18.5" fill="#fff" stroke="#b4b4b4" stroke-width="0.8"/>
<line x1="150.8" y1="20.2" x2="167.4" y2="20.2" stroke="#e8807a" stroke-width="1.3"/>
<text x="169.5" y="22.7" font-size="6.95" text-anchor="start" fill="#111" stroke="#111" stroke-width="0.24" font-weight="normal">Optical carrier</text>
<line x1="150.8" y1="29.5" x2="167.4" y2="29.5" stroke="#006aa0" stroke-width="1.3"/>
<text x="169.5" y="32" font-size="6.95" text-anchor="start" fill="#111" stroke="#111" stroke-width="0.24" font-weight="normal">Ring resonance</text>
<rect x="259.2" y="15.8" width="63.6" height="36.9" rx="2" fill="#fff" stroke="#b0b0b0" stroke-width="0.8"/>
<path d="M268.5 50.6 C269.8 44 270.2 33 271 31 C271.6 29.6 273.2 29.4 274 30.4 C275 31.6 275.6 36 276.1 37.6 C276.6 36 277.2 31.6 278.2 30.4 C279 29.4 280.6 29.6 281.2 31 C282 33 282.4 44 283.2 50.6 Z" fill="#f3837b"/>
<path d="M298.7 50.6 C300 44 300.4 33 301.2 30.8 C301.8 29.4 305 29.2 306.2 30 C306.7 30.6 307 33 307.2 34.2 C307.4 33 307.7 30.6 308.2 30 C309.4 29.2 311.6 29.4 311.8 30.8 C312.4 33 312.6 44 313.3 50.6 Z" fill="#f3837b"/>
<line x1="291.3" y1="24.5" x2="291.3" y2="50.7" stroke="#eb4035" stroke-width="1.3"/>
<path d="M276.6 24 C281 24.2 286 25.5 289.6 29.2 C293 25.5 298 24.2 302.7 24" stroke="#006aa0" stroke-width="1" fill="none"/>
<line x1="264.8" y1="50.7" x2="317.5" y2="50.7" stroke="#222" stroke-width="0.9"/>
<line x1="264.8" y1="50.7" x2="264.8" y2="29.5" stroke="#222" stroke-width="0.9"/>
<path d="M264.8 27.1 L263.4 30.1 L266.2 30.1Z" fill="#111"/>
<path d="M319.8 50.7 L316.8 49.3 L316.8 52.1Z" fill="#111"/>
<circle cx="265" cy="21.3" r="3.8" fill="#fff" stroke="#111" stroke-width="0.6"/>
<path d="M263.5 19.9 C263.1 21 263.3 22.9 264.1 22.9 C264.8 22.9 265.1 22.1 265.2 21.1 C265.3 22.1 265.6 22.9 266.3 22.9 C267.1 22.9 267.3 21 266.9 19.9" stroke="#000" stroke-width="0.85" fill="none"/>
<text x="341.5" y="10.0" font-size="14" font-weight="bold" fill="#000" stroke="#000" stroke-width="0.35">b</text>
<path d="M369.6 182 L369.6 144.39 L370 143.11 L370.4 142.97 L370.8 143.69 L371.2 143.27 L371.6 143.33 L372 143.23 L372.4 144.65 L372.81 143 L373.21 142.92 L373.61 143.73 L374.01 143.28 L374.41 143.93 L374.81 142.28 L375.21 143.77 L375.61 143.14 L376.01 143.62 L376.41 143.06 L376.81 142.95 L377.21 144.52 L377.61 142.38 L378.01 143.51 L378.41 143.62 L378.82 143.54 L379.22 143.61 L379.62 142.64 L380.02 143 L380.42 142.76 L380.82 144.14 L381.22 142.54 L381.62 144.76 L382.02 142.86 L382.42 144 L382.82 142.26 L383.22 143.75 L383.62 143.25 L384.02 143.7 L384.42 142.61 L384.82 143.61 L385.23 142.96 L385.63 142.77 L386.03 143.22 L386.43 143.3 L386.83 143.52 L387.23 142.75 L387.63 143.15 L388.03 142.13 L388.43 142.52 L388.83 142.31 L389.23 142 L389.63 142.44 L390.03 144.09 L390.43 143.08 L390.83 142.35 L391.24 143.19 L391.64 144.35 L392.04 143.8 L392.44 144.32 L392.84 142.57 L393.24 143.44 L393.64 142.93 L394.04 143.59 L394.44 143.53 L394.84 143.03 L395.24 142.33 L395.64 143.98 L396.04 143.18 L396.44 143.67 L396.84 143.09 L397.25 142.41 L397.65 142.52 L398.05 142.99 L398.45 143.72 L398.85 144.02 L399.25 143.06 L399.65 143.14 L400.05 143.75 L400.45 142.38 L400.85 143.28 L401.25 143.72 L401.65 141.86 L402.05 143.79 L402.45 143.87 L402.85 143.45 L403.25 141.76 L403.66 143.09 L404.06 142.96 L404.46 143.47 L404.86 143.38 L405.26 143.22 L405.66 143.79 L406.06 142.79 L406.46 143.21 L406.86 143 L407.26 143.64 L407.66 142.84 L408.06 143.49 L408.46 142.86 L408.86 143.52 L409.26 142.56 L409.67 143.47 L410.07 142.54 L410.47 143.14 L410.87 142.08 L411.27 143.42 L411.67 142.97 L412.07 143.28 L412.47 141.43 L412.87 142.14 L413.27 142.68 L413.67 144.35 L414.07 142.36 L414.47 143.34 L414.87 143.9 L415.27 142.74 L415.68 142.49 L416.08 143.04 L416.48 143.83 L416.88 142.15 L417.28 143.75 L417.68 143.04 L418.08 143.24 L418.48 142.94 L418.88 143.07 L419.28 143.78 L419.68 143.28 L420.08 142.85 L420.48 144.85 L420.88 141.78 L421.28 143.53 L421.68 142.93 L422.09 143.63 L422.49 143.52 L422.89 143.38 L423.29 142.84 L423.69 143.88 L424.09 143.05 L424.49 142.86 L424.89 142.83 L425.29 143.88 L425.69 142.42 L426.09 143.74 L426.49 143.69 L426.89 143.57 L427.29 142.83 L427.69 143.23 L428.1 144.66 L428.5 143.67 L428.9 143.34 L429.3 143.48 L429.7 143.03 L430.1 144.26 L430.5 143.51 L430.9 142.51 L431.3 143.16 L431.7 143.26 L432.1 143.42 L432.5 143.19 L432.9 143.01 L433.3 143.6 L433.7 142.69 L434.11 143.48 L434.51 144.72 L434.91 143.35 L435.31 143.09 L435.71 144.18 L436.11 143.52 L436.51 143.74 L436.91 142.46 L437.31 143.44 L437.71 142.87 L438.11 142.99 L438.51 142.99 L438.91 143.76 L439.31 143.04 L439.71 143.4 L440.12 142.56 L440.52 142.8 L440.92 142.73 L441.32 143.53 L441.72 143.1 L442.12 142.67 L442.52 143.64 L442.92 143.76 L443.32 143.89 L443.72 144.06 L444.12 143.05 L444.52 142.88 L444.92 144.04 L445.32 143.64 L445.72 144.13 L446.12 144.12 L446.53 142.46 L446.93 141.83 L447.33 144.43 L447.73 143.27 L448.13 143.44 L448.53 143.82 L448.93 143.75 L449.33 142.93 L449.73 143.48 L450.13 143.4 L450.53 144.3 L450.93 143.07 L451.33 143.56 L451.73 142.04 L452.13 143.95 L452.54 143.23 L452.94 143.65 L453.34 142.75 L453.74 143.26 L454.14 144.33 L454.54 143.77 L454.94 142.36 L455.34 143.24 L455.74 144.08 L456.14 144.26 L456.54 142.4 L456.94 143.45 L457.34 141.99 L457.74 143.53 L458.14 143.92 L458.55 143.54 L458.95 143.79 L459.35 142.69 L459.75 143.01 L460.15 142.68 L460.55 143.63 L460.95 143.27 L461.35 143.81 L461.75 143.01 L462.15 144.5 L462.55 143.11 L462.95 143.1 L463.35 142.71 L463.75 143.24 L464.15 142.86 L464.55 143.07 L464.96 140.92 L465.36 143.39 L465.76 143.51 L466.16 143.64 L466.56 143.55 L466.96 143.38 L467.36 144.06 L467.76 143.17 L468.16 141.74 L468.56 142.74 L468.96 144.03 L469.36 144.17 L469.76 143.04 L470.16 143.17 L470.56 142.96 L470.97 143.82 L471.37 143.67 L471.77 142.98 L472.17 142.98 L472.57 142.01 L472.97 143.01 L473.37 143.97 L473.77 143.41 L474.17 143.62 L474.57 143.22 L474.97 143.27 L475.37 141.93 L475.77 142.54 L476.17 144.17 L476.57 143.83 L476.98 143.29 L477.38 142.69 L477.78 143.83 L478.18 141.64 L478.58 143.07 L478.98 143.99 L479.38 142.86 L479.78 143.59 L480.18 144.27 L480.58 144.15 L480.98 143.29 L481.38 142.84 L481.78 144.01 L482.18 143.93 L482.58 142.14 L482.98 143.48 L483.39 144.13 L483.79 144.49 L484.19 144.58 L484.59 143.06 L484.99 142.4 L485.39 143.14 L485.79 143.81 L486.19 142.5 L486.59 143.26 L486.99 143.43 L487.39 142.74 L487.79 142.98 L488.19 141.88 L488.59 143.99 L488.99 141.9 L489.4 142.88 L489.8 142.84 L490.2 143.06 L490.6 144.7 L491 143.27 L491.4 142.04 L491.8 144.12 L492.2 143.57 L492.6 143.29 L493 143.52 L493.4 143.56 L493.8 144.18 L494.2 143.07 L494.6 142.79 L495 143.72 L495.41 143.46 L495.81 143.15 L496.21 142.6 L496.61 144 L497.01 143.78 L497.41 143.9 L497.81 142.81 L498.21 144.14 L498.61 142.68 L499.01 142.55 L499.41 143.64 L499.81 142.76 L500.21 143.31 L500.61 142.61 L501.01 143.45 L501.42 142.13 L501.82 143.14 L502.22 143.25 L502.62 143.73 L503.02 142.3 L503.42 143.65 L503.82 142.89 L504.22 142.32 L504.62 142.54 L505.02 143.61 L505.42 143.84 L505.82 143.65 L506.22 142.82 L506.62 143.71 L507.02 142.9 L507.42 142.93 L507.83 143.67 L508.23 142.54 L508.63 143.69 L509.03 143.06 L509.43 143.28 L509.83 143.13 L510.23 143 L510.63 142.62 L511.03 142.56 L511.43 143.58 L511.83 143.4 L512.23 143.59 L512.63 143.93 L513.03 142.91 L513.43 144.06 L513.84 143.77 L514.24 143.77 L514.64 143.54 L515.04 143.16 L515.44 143.31 L515.84 144.16 L516.24 144 L516.64 144.14 L517.04 143.94 L517.44 143.8 L517.84 143.59 L518.24 144.31 L518.64 142.5 L519.04 143.42 L519.44 143.54 L519.85 141.98 L520.25 142.4 L520.65 142.53 L521.05 143.41 L521.45 144.22 L521.85 143.83 L522.25 142.9 L522.65 143.71 L523.05 142.91 L523.45 144.14 L523.85 143.31 L524.25 142.8 L524.65 142.42 L525.05 143.56 L525.45 142.86 L525.85 143.42 L526.26 143.13 L526.66 144.32 L527.06 142.84 L527.46 143.92 L527.86 143.44 L528.26 143.81 L528.66 143.58 L529.06 141.35 L529.46 143.05 L529.86 143.53 L530.26 144 L530.66 143.1 L531.06 142.17 L531.46 143.36 L531.86 142.61 L532.27 142.99 L532.67 144.01 L533.07 143.25 L533.47 143.29 L533.87 143.73 L534.27 142.78 L534.67 143.68 L535.07 143.89 L535.47 143.07 L535.87 142.81 L536.27 143.18 L536.67 143.65 L537.07 144.14 L537.47 143.59 L537.87 143.09 L538.28 143.99 L538.68 143.76 L539.08 143.59 L539.48 143.96 L539.88 143.14 L540.28 142.43 L540.68 144.13 L541.08 143.06 L541.48 144.72 L541.88 142.43 L542.28 142.81 L542.68 144.29 L543.08 144.35 L543.48 142.33 L543.88 143.83 L544.28 142.86 L544.69 143.35 L545.09 142.65 L545.49 142.53 L545.89 144.6 L546.29 142.24 L546.69 143.18 L547.09 142.47 L547.49 144.52 L547.89 142.94 L548.29 143.54 L548.69 144.21 L549.09 144.56 L549.49 144.72 L549.89 143.37 L550.29 143.07 L550.7 143.28 L551.1 143.32 L551.5 141.98 L551.9 144.13 L552.3 143.46 L552.7 140.77 L553.1 142.88 L553.5 143.03 L553.5 182Z" stroke="none" stroke-width="0" fill="#e8807a"/>
<line x1="461.6" y1="30.5" x2="461.6" y2="144" stroke="#ee7a74" stroke-width="1.0"/>
<line x1="461.6" y1="134" x2="461.6" y2="144" stroke="#ee7a74" stroke-width="2.8"/>
<line x1="464.4" y1="141.2" x2="464.4" y2="144" stroke="#ee7a74" stroke-width="1.0"/>
<path d="M369.6 182 L369.6 144.27 L370 143.6 L370.4 143.19 L370.8 144.87 L371.2 142.76 L371.6 143.61 L372 142.85 L372.4 144.42 L372.81 143.79 L373.21 144.27 L373.61 143.6 L374.01 143.33 L374.41 144.3 L374.81 144.19 L375.21 143.28 L375.61 144.03 L376.01 144.29 L376.41 143.8 L376.81 143.55 L377.21 143.95 L377.61 144.4 L378.01 141.38 L378.41 144.09 L378.82 143.99 L379.22 143.93 L379.62 143.6 L380.02 143.72 L380.42 144.36 L380.82 143.99 L381.22 143.45 L381.62 143.88 L382.02 143.84 L382.42 143.97 L382.82 144.36 L383.22 143.81 L383.62 143.27 L384.02 144.15 L384.42 143.18 L384.82 143.93 L385.23 144.28 L385.63 142.46 L386.03 144.08 L386.43 143.68 L386.83 144.66 L387.23 144.21 L387.63 143.36 L388.03 144.15 L388.43 142.88 L388.83 144 L389.23 143.79 L389.63 142.71 L390.03 144.49 L390.43 144.17 L390.83 144.19 L391.24 142.93 L391.64 143.93 L392.04 142.93 L392.44 144.13 L392.84 143.23 L393.24 144.28 L393.64 144.61 L394.04 143.81 L394.44 143.88 L394.84 143.52 L395.24 143.16 L395.64 143.14 L396.04 143.35 L396.44 143.48 L396.84 143.44 L397.25 144.08 L397.65 143.53 L398.05 143.87 L398.45 143.36 L398.85 143.63 L399.25 143.85 L399.65 143.58 L400.05 144.24 L400.45 143.33 L400.85 143.36 L401.25 144.18 L401.65 144.13 L402.05 143.97 L402.45 143.52 L402.85 143.44 L403.25 143.77 L403.66 143.56 L404.06 143.75 L404.46 143.6 L404.86 144.79 L405.26 144.25 L405.66 144.4 L406.06 143.19 L406.46 142.09 L406.86 144.71 L407.26 144.19 L407.66 143.64 L408.06 143.25 L408.46 144.28 L408.86 143.39 L409.26 144.11 L409.67 144.09 L410.07 143.84 L410.47 143.31 L410.87 144.55 L411.27 143.89 L411.67 143.83 L412.07 143.36 L412.47 142.44 L412.87 143.99 L413.27 144.75 L413.67 144.31 L414.07 144.17 L414.47 144.32 L414.87 143.3 L415.27 142.99 L415.68 144 L416.08 143.67 L416.48 143.21 L416.88 143.75 L417.28 144.15 L417.68 143.59 L418.08 142.66 L418.48 144.23 L418.88 143.89 L419.28 144.08 L419.68 143.81 L420.08 143.73 L420.48 143.67 L420.88 143.94 L421.28 143.83 L421.68 143.12 L422.09 144.63 L422.49 143.79 L422.89 143.23 L423.29 143.31 L423.69 143.94 L424.09 143.88 L424.49 143.91 L424.89 143.89 L425.29 144.43 L425.69 144.17 L426.09 143.95 L426.49 142.76 L426.89 142.96 L427.29 143.47 L427.69 143.7 L428.1 143.67 L428.5 142.37 L428.9 143.07 L429.3 143.65 L429.7 143.15 L430.1 143.13 L430.5 143.8 L430.9 144.11 L431.3 144.43 L431.7 143.49 L432.1 143.75 L432.5 143.53 L432.9 143.81 L433.3 142.98 L433.7 143.36 L434.11 143.67 L434.51 144.17 L434.91 142.94 L435.31 143.83 L435.71 143.86 L436.11 143.79 L436.51 143.77 L436.91 143.13 L437.31 143.87 L437.71 144.74 L438.11 143.82 L438.51 144.1 L438.91 143.43 L439.31 144.47 L439.71 144.13 L440.12 143.84 L440.52 144.22 L440.92 143.1 L441.32 143.84 L441.72 144.89 L442.12 143.35 L442.52 144.33 L442.92 143.51 L443.32 144.19 L443.72 143.86 L444.12 143.88 L444.52 144.01 L444.92 143.31 L445.32 143.64 L445.72 143.55 L446.12 144.13 L446.53 143.77 L446.93 144.41 L447.33 143.25 L447.73 143.93 L448.13 143.87 L448.53 142.83 L448.93 142.08 L449.33 143.19 L449.73 143.62 L450.13 143.62 L450.53 142.97 L450.93 143.68 L451.33 143.74 L451.73 143.68 L452.13 144.01 L452.54 142.45 L452.94 143.79 L453.34 143.74 L453.74 143.39 L454.14 143.54 L454.54 143.18 L454.94 144.52 L455.34 143.17 L455.74 143.31 L456.14 143.78 L456.54 143.41 L456.94 143.62 L457.34 143.82 L457.74 143.14 L458.14 142.85 L458.55 144.27 L458.95 144.29 L459.35 143.72 L459.75 143.7 L460.15 143.6 L460.55 144.28 L460.95 143.67 L461.35 143.68 L461.75 144.2 L462.15 143.07 L462.55 144.32 L462.95 143.96 L463.35 143.3 L463.75 143.8 L464.15 144.05 L464.55 143.71 L464.96 143.62 L465.36 143.18 L465.76 143.88 L466.16 143.84 L466.56 143.32 L466.96 143.99 L467.36 144.25 L467.76 143.6 L468.16 143.74 L468.56 143.63 L468.96 143.22 L469.36 144.33 L469.76 143.83 L470.16 144.13 L470.56 143.58 L470.97 143.47 L471.37 143.92 L471.77 143.89 L472.17 143.62 L472.57 144.23 L472.97 144.56 L473.37 142.81 L473.77 143.95 L474.17 144.28 L474.57 144.5 L474.97 143.79 L475.37 143.95 L475.77 142.94 L476.17 144 L476.57 143.75 L476.98 143.74 L477.38 143.62 L477.78 144.4 L478.18 143.6 L478.58 144.7 L478.98 144.3 L479.38 144.09 L479.78 143.77 L480.18 143.95 L480.58 144.27 L480.98 144.1 L481.38 144.22 L481.78 144.24 L482.18 143.61 L482.58 143.1 L482.98 144.34 L483.39 144.33 L483.79 143.98 L484.19 142.93 L484.59 143.49 L484.99 144.04 L485.39 144.13 L485.79 143.84 L486.19 144.05 L486.59 143.76 L486.99 142.79 L487.39 142.94 L487.79 144.13 L488.19 143.95 L488.59 145.05 L488.99 142.74 L489.4 144.29 L489.8 143.9 L490.2 143.28 L490.6 144.02 L491 143.21 L491.4 144.18 L491.8 143.97 L492.2 143.21 L492.6 144.24 L493 143.81 L493.4 143.92 L493.8 143.57 L494.2 143.52 L494.6 144.02 L495 143.87 L495.41 143.69 L495.81 143.69 L496.21 143.89 L496.61 144.38 L497.01 143.88 L497.41 142.47 L497.81 144.03 L498.21 144 L498.61 143.61 L499.01 144.1 L499.41 143.66 L499.81 144 L500.21 144.3 L500.61 144.21 L501.01 144 L501.42 143.53 L501.82 143.2 L502.22 143.22 L502.62 143.57 L503.02 143.54 L503.42 143.76 L503.82 143.82 L504.22 143.51 L504.62 144.93 L505.02 143.85 L505.42 143.56 L505.82 144.13 L506.22 144 L506.62 144.17 L507.02 144.2 L507.42 142.59 L507.83 143.53 L508.23 143.72 L508.63 142.62 L509.03 143.57 L509.43 143.98 L509.83 142.13 L510.23 143.88 L510.63 143.25 L511.03 144.08 L511.43 142.9 L511.83 143.31 L512.23 144.06 L512.63 144.1 L513.03 144.77 L513.43 143.61 L513.84 143.51 L514.24 143.53 L514.64 143.79 L515.04 143.29 L515.44 143.76 L515.84 143.58 L516.24 143.56 L516.64 143.88 L517.04 142.67 L517.44 144.83 L517.84 144.17 L518.24 144.13 L518.64 143.75 L519.04 143.99 L519.44 144.73 L519.85 144.07 L520.25 143.12 L520.65 143.51 L521.05 143.81 L521.45 143.44 L521.85 144.1 L522.25 143.34 L522.65 143.87 L523.05 143.7 L523.45 143.77 L523.85 143.29 L524.25 143.95 L524.65 143.88 L525.05 144.1 L525.45 143.25 L525.85 142.8 L526.26 143.96 L526.66 143.54 L527.06 144.12 L527.46 144.12 L527.86 143.8 L528.26 143.21 L528.66 144.08 L529.06 144.21 L529.46 143.35 L529.86 143.01 L530.26 143.5 L530.66 143.58 L531.06 143.57 L531.46 143.39 L531.86 143.47 L532.27 143.61 L532.67 143.89 L533.07 143.33 L533.47 143.44 L533.87 144.02 L534.27 142.93 L534.67 144.11 L535.07 142.42 L535.47 143.19 L535.87 143.78 L536.27 143.99 L536.67 144.34 L537.07 144.51 L537.47 143.94 L537.87 143.71 L538.28 143.69 L538.68 143.83 L539.08 142.99 L539.48 144.13 L539.88 143.31 L540.28 143.76 L540.68 143.69 L541.08 144.21 L541.48 143.76 L541.88 144.91 L542.28 143.84 L542.68 143.71 L543.08 144.28 L543.48 143.9 L543.88 144.03 L544.28 144.28 L544.69 144.94 L545.09 143.65 L545.49 142.86 L545.89 143.6 L546.29 143.46 L546.69 143.92 L547.09 143.33 L547.49 144.39 L547.89 143.06 L548.29 143.81 L548.69 143.24 L549.09 144.36 L549.49 143.34 L549.89 143.52 L550.29 143.4 L550.7 144 L551.1 144.64 L551.5 143.75 L551.9 143.63 L552.3 143.06 L552.7 143.62 L553.1 143.41 L553.5 142.8 L553.5 182Z" stroke="none" stroke-width="0" fill="#006aa0"/>
<line x1="461.6" y1="110.4" x2="461.6" y2="144" stroke="#006aa0" stroke-width="1.6"/>
<line x1="456.5" y1="140.1" x2="456.5" y2="144" stroke="#006aa0" stroke-width="1.0"/>
<line x1="476.3" y1="141.2" x2="476.3" y2="144" stroke="#006aa0" stroke-width="1.0"/>
<line x1="401" y1="141.6" x2="401" y2="144" stroke="#006aa0" stroke-width="1.0"/>
<line x1="437" y1="142" x2="437" y2="144" stroke="#006aa0" stroke-width="1.0"/>
<line x1="369.6" y1="11.6" x2="553.5" y2="11.6" stroke="#8a8a8a" stroke-width="0.9"/>
<line x1="369.6" y1="182" x2="553.5" y2="182" stroke="#8a8a8a" stroke-width="0.9"/>
<line x1="369.6" y1="11.6" x2="369.6" y2="182" stroke="#8a8a8a" stroke-width="0.9"/>
<line x1="553.5" y1="11.6" x2="553.5" y2="182" stroke="#8a8a8a" stroke-width="0.9"/>
<line x1="399.6" y1="182" x2="399.6" y2="180" stroke="#8a8a8a" stroke-width="0.8"/>
<line x1="399.6" y1="11.6" x2="399.6" y2="13.6" stroke="#8a8a8a" stroke-width="0.8"/>
<line x1="430.25" y1="182" x2="430.25" y2="180" stroke="#8a8a8a" stroke-width="0.8"/>
<line x1="430.25" y1="11.6" x2="430.25" y2="13.6" stroke="#8a8a8a" stroke-width="0.8"/>
<line x1="460.9" y1="182" x2="460.9" y2="180" stroke="#8a8a8a" stroke-width="0.8"/>
<line x1="460.9" y1="11.6" x2="460.9" y2="13.6" stroke="#8a8a8a" stroke-width="0.8"/>
<line x1="491.55" y1="182" x2="491.55" y2="180" stroke="#8a8a8a" stroke-width="0.8"/>
<line x1="491.55" y1="11.6" x2="491.55" y2="13.6" stroke="#8a8a8a" stroke-width="0.8"/>
<line x1="522.2" y1="182" x2="522.2" y2="180" stroke="#8a8a8a" stroke-width="0.8"/>
<line x1="522.2" y1="11.6" x2="522.2" y2="13.6" stroke="#8a8a8a" stroke-width="0.8"/>
<line x1="369.6" y1="35.94" x2="371.6" y2="35.94" stroke="#8a8a8a" stroke-width="0.8"/>
<line x1="553.5" y1="35.94" x2="551.5" y2="35.94" stroke="#8a8a8a" stroke-width="0.8"/>
<line x1="369.6" y1="60.29" x2="371.6" y2="60.29" stroke="#8a8a8a" stroke-width="0.8"/>
<line x1="553.5" y1="60.29" x2="551.5" y2="60.29" stroke="#8a8a8a" stroke-width="0.8"/>
<line x1="369.6" y1="84.63" x2="371.6" y2="84.63" stroke="#8a8a8a" stroke-width="0.8"/>
<line x1="553.5" y1="84.63" x2="551.5" y2="84.63" stroke="#8a8a8a" stroke-width="0.8"/>
<line x1="369.6" y1="108.97" x2="371.6" y2="108.97" stroke="#8a8a8a" stroke-width="0.8"/>
<line x1="553.5" y1="108.97" x2="551.5" y2="108.97" stroke="#8a8a8a" stroke-width="0.8"/>
<line x1="369.6" y1="133.31" x2="371.6" y2="133.31" stroke="#8a8a8a" stroke-width="0.8"/>
<line x1="553.5" y1="133.31" x2="551.5" y2="133.31" stroke="#8a8a8a" stroke-width="0.8"/>
<line x1="369.6" y1="157.66" x2="371.6" y2="157.66" stroke="#8a8a8a" stroke-width="0.8"/>
<line x1="553.5" y1="157.66" x2="551.5" y2="157.66" stroke="#8a8a8a" stroke-width="0.8"/>
<text x="367.1" y="14" font-size="6.8" text-anchor="end" fill="#2b2b2b" stroke="#2b2b2b" stroke-width="0.2" font-weight="normal">0</text>
<text x="367.1" y="38.34" font-size="6.8" text-anchor="end" fill="#2b2b2b" stroke="#2b2b2b" stroke-width="0.2" font-weight="normal">-20</text>
<text x="367.1" y="62.69" font-size="6.8" text-anchor="end" fill="#2b2b2b" stroke="#2b2b2b" stroke-width="0.2" font-weight="normal">-40</text>
<text x="367.1" y="87.03" font-size="6.8" text-anchor="end" fill="#2b2b2b" stroke="#2b2b2b" stroke-width="0.2" font-weight="normal">-60</text>
<text x="367.1" y="111.37" font-size="6.8" text-anchor="end" fill="#2b2b2b" stroke="#2b2b2b" stroke-width="0.2" font-weight="normal">-80</text>
<text x="367.1" y="135.71" font-size="6.8" text-anchor="end" fill="#2b2b2b" stroke="#2b2b2b" stroke-width="0.2" font-weight="normal">-100</text>
<text x="367.1" y="160.06" font-size="6.8" text-anchor="end" fill="#2b2b2b" stroke="#2b2b2b" stroke-width="0.2" font-weight="normal">-120</text>
<text x="367.1" y="184.4" font-size="6.8" text-anchor="end" fill="#2b2b2b" stroke="#2b2b2b" stroke-width="0.2" font-weight="normal">-140</text>
<text x="399.6" y="190.1" font-size="7.0" text-anchor="middle" fill="#2b2b2b" stroke="#2b2b2b" stroke-width="0.2" font-weight="normal">17.99</text>
<text x="460.9" y="190.1" font-size="7.0" text-anchor="middle" fill="#2b2b2b" stroke="#2b2b2b" stroke-width="0.2" font-weight="normal">18.00</text>
<text x="522.2" y="190.1" font-size="7.0" text-anchor="middle" fill="#2b2b2b" stroke="#2b2b2b" stroke-width="0.2" font-weight="normal">18.01</text>
<text x="460.5" y="202.3" font-size="8.55" text-anchor="middle" fill="#1a1a1a" stroke="#1a1a1a" stroke-width="0.25" font-weight="normal">Frequency (GHz)</text>
<text x="352.3" y="97.4" font-size="8.55" text-anchor="middle" fill="#1a1a1a" stroke="#1a1a1a" stroke-width="0.25" font-weight="normal" transform="rotate(-90 352.3 97.4)">RF power (dBm)</text>
<text x="441.2" y="26.3" font-size="8.55" text-anchor="start" fill="#1a1a1a" stroke="#1a1a1a" stroke-width="0.25" font-weight="normal">Notch filter</text>
<line x1="462.8" y1="30.4" x2="475.9" y2="30.4" stroke="#222" stroke-width="0.9"/>
<line x1="462.8" y1="110.4" x2="475.9" y2="110.4" stroke="#222" stroke-width="0.9"/>
<line x1="469.6" y1="35.6" x2="469.6" y2="106.3" stroke="#000" stroke-width="1.0" stroke-dasharray="2 1.2"/>
<path d="M469.6 32.5 L467.55 35.8 L471.65 35.8Z" fill="#000"/>
<path d="M469.6 109.3 L467.55 106 L471.65 106Z" fill="#000"/>
<text x="472.6" y="73.8" font-size="8.55" text-anchor="start" fill="#1a1a1a" stroke="#1a1a1a" stroke-width="0.25" font-weight="normal">66 dB</text>
<rect x="375" y="15.4" width="61" height="18.8" fill="#fff" stroke="#b4b4b4" stroke-width="0.8"/>
<line x1="375.9" y1="20.3" x2="392.7" y2="20.3" stroke="#e8807a" stroke-width="1.3"/>
<text x="395.1" y="22.8" font-size="6.95" text-anchor="start" fill="#111" stroke="#111" stroke-width="0.24" font-weight="normal">Without filter</text>
<line x1="375.9" y1="29.4" x2="392.7" y2="29.4" stroke="#006aa0" stroke-width="1.3"/>
<text x="395.1" y="31.9" font-size="6.95" text-anchor="start" fill="#111" stroke="#111" stroke-width="0.24" font-weight="normal">With filter</text>
<rect x="514.3" y="16.1" width="33.4" height="37.3" rx="1.6" fill="#fff" stroke="#b4b4b4" stroke-width="0.8"/>
<path d="M522.5 50.6 C523.3 44 523.7 34 524.3 31.4 C524.9 29.3 528.1 29.1 528.9 31 C529.7 33 530.2 40 530.45 50.6 Z" fill="#50cf6a"/>
<path d="M530.75 50.6 C531 40 531.5 33 532.3 31 C533.1 29.1 536.3 29.3 536.9 31.4 C537.5 34 537.9 44 538.5 50.6 Z" fill="#50cf6a"/>
<line x1="518.6" y1="50.8" x2="541.8" y2="50.8" stroke="#222" stroke-width="0.9"/>
<line x1="518.6" y1="50.8" x2="518.6" y2="29.5" stroke="#222" stroke-width="0.9"/>
<path d="M518.6 27.1 L517.2 30.1 L520 30.1Z" fill="#111"/>
<path d="M544 50.8 L541 49.4 L541 52.2Z" fill="#111"/>
<text x="-0.5" y="225" font-size="14" font-weight="bold" fill="#000" stroke="#000" stroke-width="0.35">c</text>
<path d="M27.2 395 L27.2 362.61 L27.6 363.26 L28 363.26 L28.4 362.78 L28.8 362.54 L29.2 362.66 L29.6 364.06 L30 362.6 L30.4 362.91 L30.8 363.38 L31.2 362.9 L31.6 362.6 L32 361.99 L32.4 361.09 L32.8 361.99 L33.2 362.99 L33.6 362.74 L34 364.45 L34.4 364.44 L34.8 362.81 L35.2 363.16 L35.6 362.14 L36 364.38 L36.4 362.4 L36.81 362.45 L37.21 362.64 L37.61 361.67 L38.01 362.55 L38.41 363.45 L38.81 364.48 L39.21 363.34 L39.61 362.2 L40.01 364.27 L40.41 361.87 L40.81 362.97 L41.21 363.34 L41.61 363.8 L42.01 363.36 L42.41 364.49 L42.81 363.58 L43.21 363.38 L43.61 363.12 L44.01 363.61 L44.41 364.29 L44.81 365.11 L45.21 363.6 L45.61 361.85 L46.01 362.37 L46.41 363.13 L46.81 363.99 L47.21 362.17 L47.61 363.1 L48.01 361.92 L48.41 363.75 L48.81 362.87 L49.21 363.45 L49.61 364.4 L50.01 363.06 L50.41 360.7 L50.81 363.65 L51.21 364.15 L51.61 362.38 L52.01 361.13 L52.41 362.96 L52.81 363.86 L53.21 363.04 L53.61 362.14 L54.01 362.78 L54.41 363.79 L54.81 364.06 L55.22 362.02 L55.62 362.41 L56.02 362.78 L56.42 363.05 L56.82 362.17 L57.22 362.02 L57.62 362.51 L58.02 365.06 L58.42 362.19 L58.82 363.23 L59.22 362.87 L59.62 362.99 L60.02 363.99 L60.42 362.91 L60.82 363.68 L61.22 361.88 L61.62 362.74 L62.02 361.02 L62.42 361.94 L62.82 362.16 L63.22 363.71 L63.62 363.1 L64.02 362.31 L64.42 363.26 L64.82 363.71 L65.22 362.24 L65.62 362.79 L66.02 363.32 L66.42 361.7 L66.82 363.39 L67.22 363.97 L67.62 362.4 L68.02 363.63 L68.42 363.82 L68.82 363.04 L69.22 363.96 L69.62 363.8 L70.02 363.94 L70.42 362.96 L70.82 362.6 L71.22 361.83 L71.62 363.22 L72.02 363.64 L72.42 361.9 L72.82 363.63 L73.22 362.9 L73.63 364.65 L74.03 363.45 L74.43 362.51 L74.83 362.62 L75.23 364.07 L75.63 363.42 L76.03 361.42 L76.43 363.5 L76.83 362.12 L77.23 364.07 L77.63 363.66 L78.03 363.48 L78.43 362.79 L78.83 362.6 L79.23 361.73 L79.63 362.38 L80.03 362.43 L80.43 364.08 L80.83 363.59 L81.23 365.04 L81.63 362.9 L82.03 364.02 L82.43 363.14 L82.83 362.64 L83.23 363.19 L83.63 362.18 L84.03 363.41 L84.43 362.34 L84.83 361.65 L85.23 363.32 L85.63 363.93 L86.03 362.66 L86.43 363.29 L86.83 360.31 L87.23 363.44 L87.63 364.34 L88.03 363.32 L88.43 362.02 L88.83 360.8 L89.23 362.88 L89.63 363.57 L90.03 362.75 L90.43 360.7 L90.83 364.12 L91.23 362.67 L91.63 363.87 L92.04 364.11 L92.44 364.41 L92.84 362.65 L93.24 361.71 L93.64 362.77 L94.04 362.67 L94.44 362.13 L94.84 359.21 L95.24 357.13 L95.64 355.35 L96.04 354.63 L96.44 356.41 L96.84 357.32 L97.24 359.09 L97.64 361.93 L98.04 362.34 L98.44 360.14 L98.84 361.55 L99.24 363.29 L99.64 363.19 L100.04 364.61 L100.44 362.94 L100.84 362.46 L101.24 363.98 L101.64 362.99 L102.04 363.43 L102.44 362.63 L102.84 362.86 L103.24 361.66 L103.64 363.95 L104.04 363.59 L104.44 362.1 L104.84 363.76 L105.24 363.42 L105.64 362.93 L106.04 362.65 L106.44 362.97 L106.84 361.83 L107.24 362.71 L107.64 362.25 L108.04 363.35 L108.44 359.83 L108.84 362.7 L109.24 363.22 L109.64 363.11 L110.04 363.24 L110.45 364.81 L110.85 363.76 L111.25 361.57 L111.65 361.74 L112.05 363.54 L112.45 362.86 L112.85 363.94 L113.25 362.36 L113.65 363.62 L114.05 362.82 L114.45 363.68 L114.85 362.58 L115.25 362.72 L115.65 361.56 L116.05 363.32 L116.45 363.66 L116.85 364.29 L117.25 363.25 L117.65 363.31 L118.05 363.38 L118.45 363.66 L118.85 363.5 L119.25 363.49 L119.65 363.29 L120.05 362.33 L120.45 364.77 L120.85 363.47 L121.25 361.72 L121.65 363.4 L122.05 363.25 L122.45 363.21 L122.85 363.04 L123.25 362.75 L123.65 363.32 L124.05 360.19 L124.45 363.29 L124.85 362.76 L125.25 360.88 L125.65 363.85 L126.05 363.35 L126.45 364.11 L126.85 362.68 L127.25 363.26 L127.65 362.79 L128.05 362.87 L128.45 363.01 L128.86 362.81 L129.26 363.14 L129.66 364.25 L130.06 362.88 L130.46 362.5 L130.86 364.06 L131.26 363.07 L131.66 363.7 L132.06 363.1 L132.46 363.41 L132.86 363.84 L133.26 362.14 L133.66 362.3 L134.06 363.03 L134.46 363.52 L134.86 362.76 L135.26 363.1 L135.66 364.32 L136.06 362.24 L136.46 362.85 L136.86 362.4 L137.26 361.94 L137.66 361.72 L138.06 362.74 L138.46 356.5 L138.86 354.06 L139.26 352.07 L139.66 349.83 L140.06 349.75 L140.46 349.61 L140.86 347.69 L141.26 347.41 L141.66 346.29 L142.06 348.02 L142.46 346.74 L142.86 345.81 L143.26 346.33 L143.66 345.24 L144.06 347.17 L144.46 344.62 L144.86 347.03 L145.26 347.9 L145.66 349.34 L146.06 351.34 L146.46 349.55 L146.86 353.04 L147.27 356.81 L147.67 363.2 L148.07 364.12 L148.47 362.93 L148.87 363.04 L149.27 362.94 L149.67 362.25 L150.07 362.95 L150.47 363.4 L150.87 364 L151.27 363.95 L151.67 363.3 L152.07 364.57 L152.47 362.14 L152.87 362.37 L153.27 363.92 L153.67 363.79 L154.07 362.98 L154.47 363.16 L154.87 363.43 L155.27 362.34 L155.67 362.62 L156.07 363.18 L156.47 360.63 L156.87 363.11 L157.27 363.56 L157.67 363.6 L158.07 362.93 L158.47 363.12 L158.87 362.28 L159.27 363.5 L159.67 362.83 L160.07 361.2 L160.47 361.89 L160.87 362.88 L161.27 363.33 L161.67 363.13 L162.07 362.71 L162.47 362.52 L162.87 363.74 L163.27 362.9 L163.67 362.72 L164.07 363.77 L164.47 362.51 L164.87 364 L165.27 362.53 L165.68 362.32 L166.08 364.73 L166.48 362.96 L166.88 361.93 L167.28 362.83 L167.68 362.62 L168.08 363.26 L168.48 364.54 L168.88 362.95 L169.28 363.12 L169.68 362.17 L170.08 362.47 L170.48 364.14 L170.88 363.91 L171.28 363.81 L171.68 363.21 L172.08 363.29 L172.48 363.64 L172.88 362.47 L173.28 363.73 L173.68 362.88 L174.08 361.83 L174.48 362.27 L174.88 362.52 L175.28 363.71 L175.68 363.03 L176.08 363.96 L176.48 361.74 L176.88 363.7 L177.28 363.48 L177.68 362.11 L178.08 362.07 L178.48 362.07 L178.88 363.34 L179.28 362.43 L179.68 363.01 L180.08 361.75 L180.48 363.04 L180.88 362.85 L181.28 363.37 L181.68 363.46 L182.08 362.2 L182.48 364.05 L182.88 363.44 L183.28 361.53 L183.68 364.51 L184.09 362.42 L184.49 362.07 L184.89 362.2 L185.29 363 L185.69 363.04 L186.09 364.02 L186.49 361.57 L186.89 363.79 L187.29 362.33 L187.69 362.9 L188.09 362.32 L188.49 361.52 L188.89 363.52 L189.29 364.32 L189.69 362.64 L190.09 362.27 L190.49 363.95 L190.89 362.6 L191.29 363.56 L191.69 361.39 L192.09 360.76 L192.49 363.04 L192.89 362.66 L193.29 360.05 L193.69 363 L194.09 361.62 L194.49 363.31 L194.89 364.33 L195.29 362.97 L195.69 362.36 L196.09 362.35 L196.49 361.16 L196.89 361.93 L197.29 362.91 L197.69 361.95 L198.09 362.72 L198.49 363.55 L198.89 362.86 L199.29 364.17 L199.69 361.72 L200.09 363.75 L200.49 362.76 L200.89 362.05 L201.29 362.96 L201.69 361.64 L202.09 363 L202.5 363.31 L202.9 359.43 L203.3 361.99 L203.7 362.64 L204.1 362.81 L204.5 363.39 L204.9 362.44 L205.3 362.83 L205.7 363.58 L206.1 362.83 L206.5 361.3 L206.9 363.17 L207.3 363.21 L207.7 363.04 L208.1 363.15 L208.5 361.9 L208.9 363.48 L209.3 362.76 L209.7 364.52 L210.1 363.58 L210.5 363.79 L210.9 362.87 L211.3 364.4 L211.7 362.5 L211.7 395Z" stroke="none" stroke-width="0" fill="#e8807a"/>
<line x1="49.9" y1="290.9" x2="49.9" y2="366" stroke="#ee7a74" stroke-width="1.6"/>
<line x1="96" y1="241.4" x2="96" y2="366" stroke="#ee7a74" stroke-width="1.6"/>
<line x1="142.4" y1="241.4" x2="142.4" y2="366" stroke="#ee7a74" stroke-width="1.6"/>
<line x1="188.4" y1="290.9" x2="188.4" y2="366" stroke="#ee7a74" stroke-width="1.6"/>
<line x1="96" y1="350" x2="96" y2="364" stroke="#ee7a74" stroke-width="2.6"/>
<line x1="142.5" y1="334" x2="142.5" y2="350" stroke="#ee7a74" stroke-width="2.6"/>
<path d="M27.2 395 L27.2 364.55 L27.6 363.3 L28 361.88 L28.4 364.11 L28.8 363.65 L29.2 364.01 L29.6 363.2 L30 364.27 L30.4 364.41 L30.8 363.78 L31.2 364.15 L31.6 364.63 L32 364.72 L32.4 363.69 L32.8 363.74 L33.2 363.88 L33.6 363.83 L34 363.4 L34.4 363.9 L34.8 363.88 L35.2 364.13 L35.6 363.84 L36 363.63 L36.4 363.09 L36.81 364.03 L37.21 364.56 L37.61 364.65 L38.01 362.92 L38.41 364.72 L38.81 364.96 L39.21 364.01 L39.61 365.17 L40.01 364.93 L40.41 363.34 L40.81 363.73 L41.21 364 L41.61 364.04 L42.01 364.07 L42.41 364.68 L42.81 363.94 L43.21 363.87 L43.61 364.03 L44.01 363.48 L44.41 364.49 L44.81 363.82 L45.21 364.16 L45.61 363.92 L46.01 361.12 L46.41 363.35 L46.81 362.36 L47.21 364.39 L47.61 363.92 L48.01 364.14 L48.41 363.73 L48.81 364.31 L49.21 363.83 L49.61 364.08 L50.01 364.09 L50.41 363.95 L50.81 364 L51.21 363.93 L51.61 363.87 L52.01 364.1 L52.41 363.65 L52.81 364.32 L53.21 364.36 L53.61 364.17 L54.01 363.74 L54.41 364.19 L54.81 364 L55.22 363.93 L55.62 364.45 L56.02 363.89 L56.42 362.79 L56.82 362.02 L57.22 362.27 L57.62 365.06 L58.02 363.66 L58.42 363.85 L58.82 363.98 L59.22 363.1 L59.62 364.04 L60.02 362.5 L60.42 362.49 L60.82 363.74 L61.22 363.37 L61.62 364.46 L62.02 363.98 L62.42 363.56 L62.82 364.36 L63.22 363.59 L63.62 363.91 L64.02 365.01 L64.42 364.99 L64.82 364.16 L65.22 364.15 L65.62 364.11 L66.02 362.96 L66.42 363.67 L66.82 363.64 L67.22 363.92 L67.62 364.39 L68.02 364.46 L68.42 363.62 L68.82 363.96 L69.22 364.1 L69.62 363.31 L70.02 364.6 L70.42 364.35 L70.82 364.2 L71.22 363.83 L71.62 363.82 L72.02 364.19 L72.42 364.2 L72.82 364.07 L73.22 363.96 L73.63 363.93 L74.03 363.83 L74.43 363.65 L74.83 364.36 L75.23 364.24 L75.63 363.85 L76.03 363.88 L76.43 364.45 L76.83 364.41 L77.23 364.34 L77.63 364.38 L78.03 363.14 L78.43 364.31 L78.83 364.25 L79.23 363.83 L79.63 364.17 L80.03 363.54 L80.43 363.74 L80.83 362.72 L81.23 363.5 L81.63 364.48 L82.03 364.07 L82.43 364.04 L82.83 363.6 L83.23 363.93 L83.63 363.39 L84.03 364.63 L84.43 363.79 L84.83 364.14 L85.23 364.97 L85.63 363.63 L86.03 364.23 L86.43 364.64 L86.83 364.57 L87.23 363.75 L87.63 363.97 L88.03 364.71 L88.43 363.89 L88.83 363.8 L89.23 363.89 L89.63 363.22 L90.03 364.62 L90.43 363.94 L90.83 364.28 L91.23 363.99 L91.63 363.38 L92.04 365.54 L92.44 364.55 L92.84 363.53 L93.24 364.04 L93.64 363.56 L94.04 364.18 L94.44 361.31 L94.84 361.79 L95.24 360.01 L95.64 357.42 L96.04 356.61 L96.44 358.08 L96.84 359.06 L97.24 361.3 L97.64 362.5 L98.04 362.92 L98.44 364.11 L98.84 363.16 L99.24 364.12 L99.64 364.29 L100.04 363.62 L100.44 363.49 L100.84 364.67 L101.24 365.12 L101.64 364.92 L102.04 363.53 L102.44 365.07 L102.84 363.86 L103.24 364.8 L103.64 362.35 L104.04 364.21 L104.44 364.72 L104.84 364.5 L105.24 363.15 L105.64 364.33 L106.04 363.82 L106.44 363.83 L106.84 363.74 L107.24 364.47 L107.64 364.4 L108.04 363.57 L108.44 364.07 L108.84 363.69 L109.24 364.39 L109.64 363.96 L110.04 364.11 L110.45 364.42 L110.85 363.67 L111.25 364.52 L111.65 363.81 L112.05 364.36 L112.45 364.72 L112.85 363.6 L113.25 364.18 L113.65 363.88 L114.05 364.54 L114.45 363.48 L114.85 363.07 L115.25 363.18 L115.65 363.66 L116.05 363.3 L116.45 363.94 L116.85 364.56 L117.25 364.28 L117.65 362.46 L118.05 363.74 L118.45 364.23 L118.85 363.39 L119.25 363.93 L119.65 363.98 L120.05 363.83 L120.45 364.26 L120.85 363.79 L121.25 362.96 L121.65 364.28 L122.05 363.44 L122.45 363.32 L122.85 364.21 L123.25 363.45 L123.65 364.59 L124.05 363.63 L124.45 365.03 L124.85 364.07 L125.25 364.69 L125.65 364.02 L126.05 362.24 L126.45 363.52 L126.85 364.13 L127.25 364.17 L127.65 363.8 L128.05 362.09 L128.45 364.16 L128.86 364.68 L129.26 363.46 L129.66 363.55 L130.06 364.29 L130.46 364.28 L130.86 363.57 L131.26 363.91 L131.66 363.53 L132.06 364 L132.46 363.72 L132.86 363.72 L133.26 363.58 L133.66 363.6 L134.06 363.8 L134.46 362.47 L134.86 363.86 L135.26 364.77 L135.66 364.48 L136.06 363.85 L136.46 362.84 L136.86 364.19 L137.26 363.34 L137.66 364.54 L138.06 362.95 L138.46 358 L138.86 354 L139.26 353.92 L139.66 353.29 L140.06 351.84 L140.46 349.93 L140.86 349.98 L141.26 349.82 L141.66 349.08 L142.06 346.71 L142.46 346.74 L142.86 348.31 L143.26 349.82 L143.66 349.41 L144.06 349.28 L144.46 349.19 L144.86 348.65 L145.26 350.76 L145.66 350.26 L146.06 352.42 L146.46 352.7 L146.86 355.02 L147.27 357.9 L147.67 363.25 L148.07 364.39 L148.47 363.11 L148.87 364.11 L149.27 364.02 L149.67 364.31 L150.07 364.73 L150.47 363.75 L150.87 363.86 L151.27 364.21 L151.67 363.41 L152.07 363.73 L152.47 363.43 L152.87 363.5 L153.27 363.58 L153.67 362.75 L154.07 364.26 L154.47 363.52 L154.87 364.45 L155.27 364.17 L155.67 363.39 L156.07 364.12 L156.47 363.76 L156.87 361.66 L157.27 363.93 L157.67 362.08 L158.07 364.1 L158.47 361.74 L158.87 364.92 L159.27 363.69 L159.67 363.71 L160.07 364.39 L160.47 364.43 L160.87 363.52 L161.27 364.08 L161.67 364.26 L162.07 363.48 L162.47 363.35 L162.87 363.55 L163.27 364.21 L163.67 364.18 L164.07 364.33 L164.47 363.52 L164.87 362.79 L165.27 363.45 L165.68 363.62 L166.08 363.28 L166.48 363.18 L166.88 364.07 L167.28 363.23 L167.68 363.39 L168.08 363.62 L168.48 362.68 L168.88 364.26 L169.28 363.96 L169.68 364.51 L170.08 364.23 L170.48 364.83 L170.88 363.34 L171.28 364.7 L171.68 361.91 L172.08 363.98 L172.48 363.96 L172.88 364.46 L173.28 363.86 L173.68 362.9 L174.08 363.78 L174.48 363.27 L174.88 364.08 L175.28 363.35 L175.68 363.27 L176.08 364.27 L176.48 362.83 L176.88 363.98 L177.28 364.28 L177.68 364.15 L178.08 363.96 L178.48 364.53 L178.88 364.12 L179.28 364.38 L179.68 363.4 L180.08 363.03 L180.48 363.92 L180.88 363.4 L181.28 364.1 L181.68 364.82 L182.08 363.12 L182.48 364.14 L182.88 362.61 L183.28 363.71 L183.68 364.08 L184.09 363.62 L184.49 363.48 L184.89 363.33 L185.29 362.37 L185.69 364.15 L186.09 363.61 L186.49 363.98 L186.89 363.95 L187.29 364.47 L187.69 364.18 L188.09 364.74 L188.49 363.83 L188.89 364.01 L189.29 364.3 L189.69 362.72 L190.09 362.45 L190.49 364 L190.89 364.12 L191.29 364.15 L191.69 363.14 L192.09 363.15 L192.49 363.92 L192.89 364.07 L193.29 363.98 L193.69 363.34 L194.09 364.62 L194.49 363.69 L194.89 363.18 L195.29 363.44 L195.69 364.57 L196.09 364.66 L196.49 363.89 L196.89 364.18 L197.29 364.47 L197.69 364.07 L198.09 364.22 L198.49 364.5 L198.89 364.61 L199.29 364.24 L199.69 361.87 L200.09 364.84 L200.49 363.82 L200.89 363.8 L201.29 364.02 L201.69 363.93 L202.09 365.01 L202.5 364.64 L202.9 363.48 L203.3 363.88 L203.7 364.72 L204.1 364.36 L204.5 363.01 L204.9 363.6 L205.3 363.45 L205.7 364.59 L206.1 364.09 L206.5 363.83 L206.9 363.84 L207.3 364.07 L207.7 364.46 L208.1 364.52 L208.5 363.03 L208.9 364.46 L209.3 363.72 L209.7 364.25 L210.1 364.03 L210.5 363.67 L210.9 364.04 L211.3 364.75 L211.7 363.99 L211.7 395Z" stroke="none" stroke-width="0" fill="#006aa0"/>
<line x1="49.9" y1="333.1" x2="49.9" y2="366" stroke="#006aa0" stroke-width="1.6"/>
<line x1="96" y1="250.6" x2="96" y2="366" stroke="#006aa0" stroke-width="1.6"/>
<line x1="142.4" y1="250.6" x2="142.4" y2="366" stroke="#006aa0" stroke-width="1.6"/>
<line x1="188.4" y1="332.3" x2="188.4" y2="366" stroke="#006aa0" stroke-width="1.6"/>
<line x1="27.2" y1="224.5" x2="211.7" y2="224.5" stroke="#8a8a8a" stroke-width="0.9"/>
<line x1="27.2" y1="395" x2="211.7" y2="395" stroke="#8a8a8a" stroke-width="0.9"/>
<line x1="27.2" y1="224.5" x2="27.2" y2="395" stroke="#8a8a8a" stroke-width="0.9"/>
<line x1="211.7" y1="224.5" x2="211.7" y2="395" stroke="#8a8a8a" stroke-width="0.9"/>
<line x1="49.9" y1="395" x2="49.9" y2="393" stroke="#8a8a8a" stroke-width="0.8"/>
<line x1="49.9" y1="224.5" x2="49.9" y2="226.5" stroke="#8a8a8a" stroke-width="0.8"/>
<line x1="96" y1="395" x2="96" y2="393" stroke="#8a8a8a" stroke-width="0.8"/>
<line x1="96" y1="224.5" x2="96" y2="226.5" stroke="#8a8a8a" stroke-width="0.8"/>
<line x1="142.3" y1="395" x2="142.3" y2="393" stroke="#8a8a8a" stroke-width="0.8"/>
<line x1="142.3" y1="224.5" x2="142.3" y2="226.5" stroke="#8a8a8a" stroke-width="0.8"/>
<line x1="188.5" y1="395" x2="188.5" y2="393" stroke="#8a8a8a" stroke-width="0.8"/>
<line x1="188.5" y1="224.5" x2="188.5" y2="226.5" stroke="#8a8a8a" stroke-width="0.8"/>
<line x1="27.2" y1="248.83" x2="29.2" y2="248.83" stroke="#8a8a8a" stroke-width="0.8"/>
<line x1="211.7" y1="248.83" x2="209.7" y2="248.83" stroke="#8a8a8a" stroke-width="0.8"/>
<line x1="27.2" y1="273.16" x2="29.2" y2="273.16" stroke="#8a8a8a" stroke-width="0.8"/>
<line x1="211.7" y1="273.16" x2="209.7" y2="273.16" stroke="#8a8a8a" stroke-width="0.8"/>
<line x1="27.2" y1="297.49" x2="29.2" y2="297.49" stroke="#8a8a8a" stroke-width="0.8"/>
<line x1="211.7" y1="297.49" x2="209.7" y2="297.49" stroke="#8a8a8a" stroke-width="0.8"/>
<line x1="27.2" y1="321.81" x2="29.2" y2="321.81" stroke="#8a8a8a" stroke-width="0.8"/>
<line x1="211.7" y1="321.81" x2="209.7" y2="321.81" stroke="#8a8a8a" stroke-width="0.8"/>
<line x1="27.2" y1="346.14" x2="29.2" y2="346.14" stroke="#8a8a8a" stroke-width="0.8"/>
<line x1="211.7" y1="346.14" x2="209.7" y2="346.14" stroke="#8a8a8a" stroke-width="0.8"/>
<line x1="27.2" y1="370.47" x2="29.2" y2="370.47" stroke="#8a8a8a" stroke-width="0.8"/>
<line x1="211.7" y1="370.47" x2="209.7" y2="370.47" stroke="#8a8a8a" stroke-width="0.8"/>
<text x="24.7" y="226.9" font-size="6.8" text-anchor="end" fill="#2b2b2b" stroke="#2b2b2b" stroke-width="0.2" font-weight="normal">0</text>
<text x="24.7" y="251.23" font-size="6.8" text-anchor="end" fill="#2b2b2b" stroke="#2b2b2b" stroke-width="0.2" font-weight="normal">−20</text>
<text x="24.7" y="275.56" font-size="6.8" text-anchor="end" fill="#2b2b2b" stroke="#2b2b2b" stroke-width="0.2" font-weight="normal">−40</text>
<text x="24.7" y="299.89" font-size="6.8" text-anchor="end" fill="#2b2b2b" stroke="#2b2b2b" stroke-width="0.2" font-weight="normal">−60</text>
<text x="24.7" y="324.21" font-size="6.8" text-anchor="end" fill="#2b2b2b" stroke="#2b2b2b" stroke-width="0.2" font-weight="normal">−80</text>
<text x="24.7" y="348.54" font-size="6.8" text-anchor="end" fill="#2b2b2b" stroke="#2b2b2b" stroke-width="0.2" font-weight="normal">−100</text>
<text x="24.7" y="372.87" font-size="6.8" text-anchor="end" fill="#2b2b2b" stroke="#2b2b2b" stroke-width="0.2" font-weight="normal">−120</text>
<text x="24.7" y="397.2" font-size="6.8" text-anchor="end" fill="#2b2b2b" stroke="#2b2b2b" stroke-width="0.2" font-weight="normal">−140</text>
<text x="49.9" y="402.9" font-size="7.1" text-anchor="middle" fill="#2b2b2b" stroke="#2b2b2b" stroke-width="0.2" font-weight="normal">4.99</text>
<text x="96" y="402.9" font-size="7.1" text-anchor="middle" fill="#2b2b2b" stroke="#2b2b2b" stroke-width="0.2" font-weight="normal">5.00</text>
<text x="142.3" y="402.9" font-size="7.1" text-anchor="middle" fill="#2b2b2b" stroke="#2b2b2b" stroke-width="0.2" font-weight="normal">5.01</text>
<text x="188.5" y="402.9" font-size="7.1" text-anchor="middle" fill="#2b2b2b" stroke="#2b2b2b" stroke-width="0.2" font-weight="normal">5.02</text>
<text x="118.1" y="415.5" font-size="8.55" text-anchor="middle" fill="#1a1a1a" stroke="#1a1a1a" stroke-width="0.25" font-weight="normal">Frequency (GHz)</text>
<text x="6.3" y="310" font-size="8.55" text-anchor="middle" fill="#1a1a1a" stroke="#1a1a1a" stroke-width="0.25" font-weight="normal" transform="rotate(-90 6.3 310)">RF power (dBm)</text>
<text x="120.9" y="236.3" font-size="8.55" text-anchor="middle" fill="#1a1a1a" stroke="#1a1a1a" stroke-width="0.25" font-weight="normal">IMD 3 suppression</text>
<text x="40" y="288.5" font-size="8.55" text-anchor="start" fill="#1a1a1a" stroke="#1a1a1a" stroke-width="0.25" font-weight="normal">IMD 3</text>
<line x1="180.9" y1="290.9" x2="188.8" y2="290.9" stroke="#222" stroke-width="0.9"/>
<line x1="180.9" y1="332.3" x2="188.8" y2="332.3" stroke="#222" stroke-width="0.9"/>
<line x1="184.7" y1="295.5" x2="184.7" y2="327.8" stroke="#000" stroke-width="1.0" stroke-dasharray="2 1.2"/>
<path d="M184.7 291.8 L182.7 296 L186.7 296Z" fill="#000"/>
<path d="M184.7 331.5 L182.7 327.3 L186.7 327.3Z" fill="#000"/>
<text x="160.2" y="314.5" font-size="8.55" text-anchor="start" fill="#1a1a1a" stroke="#1a1a1a" stroke-width="0.25" font-weight="normal">34 dB</text>
<text x="224" y="225" font-size="14" font-weight="bold" fill="#000" stroke="#000" stroke-width="0.35">d</text>
<defs><clipPath id="cd"><rect x="254.4" y="224.4" width="184.99999999999997" height="170.6"/></clipPath></defs>
<g clip-path="url(#cd)">
<line x1="254.4" y1="296.9" x2="439.4" y2="230.89" stroke="#f95a5e" stroke-width="1.45"/>
<line x1="254.4" y1="303.8" x2="439.4" y2="237.79" stroke="#0a68a8" stroke-width="1.45"/>
<line x1="273.2" y1="395.5" x2="431.9" y2="223.9" stroke="#f95a5e" stroke-width="1.45"/>
<line x1="317.1" y1="395.5" x2="439.4" y2="223.9" stroke="#0a68a8" stroke-width="1.45"/>
</g>
<circle cx="348.5" cy="263.33" r="2.1" fill="#f95a5e"/>
<rect x="346.55" y="268.28" width="3.9" height="3.9" fill="#0a68a8"/>
<circle cx="351.5" cy="262.25" r="2.1" fill="#f95a5e"/>
<rect x="349.55" y="267.2" width="3.9" height="3.9" fill="#0a68a8"/>
<circle cx="354.5" cy="261.18" r="2.1" fill="#f95a5e"/>
<rect x="352.55" y="266.13" width="3.9" height="3.9" fill="#0a68a8"/>
<circle cx="357.5" cy="260.11" r="2.1" fill="#f95a5e"/>
<rect x="355.55" y="265.06" width="3.9" height="3.9" fill="#0a68a8"/>
<circle cx="360.5" cy="259.04" r="2.1" fill="#f95a5e"/>
<rect x="358.55" y="263.99" width="3.9" height="3.9" fill="#0a68a8"/>
<circle cx="363.5" cy="257.97" r="2.1" fill="#f95a5e"/>
<rect x="361.55" y="262.92" width="3.9" height="3.9" fill="#0a68a8"/>
<circle cx="366.5" cy="256.9" r="2.1" fill="#f95a5e"/>
<rect x="364.55" y="261.85" width="3.9" height="3.9" fill="#0a68a8"/>
<rect x="347.25" y="311.3" width="3.5" height="3.5" fill="#f95a5e" transform="rotate(45 349 313.05)"/>
<rect x="347.7" y="347.33" width="3.8" height="3.8" fill="#0a68a8"/>
<rect x="350.12" y="308.21" width="3.5" height="3.5" fill="#f95a5e" transform="rotate(45 351.87 309.96)"/>
<rect x="350.33" y="343.66" width="3.8" height="3.8" fill="#0a68a8"/>
<rect x="352.99" y="305.13" width="3.5" height="3.5" fill="#f95a5e" transform="rotate(45 354.74 306.88)"/>
<rect x="352.96" y="340" width="3.8" height="3.8" fill="#0a68a8"/>
<rect x="355.86" y="302.04" width="3.5" height="3.5" fill="#f95a5e" transform="rotate(45 357.61 303.79)"/>
<rect x="355.59" y="336.34" width="3.8" height="3.8" fill="#0a68a8"/>
<rect x="358.73" y="298.96" width="3.5" height="3.5" fill="#f95a5e" transform="rotate(45 360.48 300.71)"/>
<rect x="358.22" y="332.67" width="3.8" height="3.8" fill="#0a68a8"/>
<rect x="361.6" y="295.87" width="3.5" height="3.5" fill="#f95a5e" transform="rotate(45 363.35 297.62)"/>
<rect x="360.85" y="329.01" width="3.8" height="3.8" fill="#0a68a8"/>
<rect x="364.47" y="292.79" width="3.5" height="3.5" fill="#f95a5e" transform="rotate(45 366.22 294.54)"/>
<rect x="363.48" y="325.35" width="3.8" height="3.8" fill="#0a68a8"/>
<line x1="254.4" y1="382.3" x2="439.4" y2="382.3" stroke="#000" stroke-width="1.4" stroke-dasharray="2.3 3.42" stroke-dashoffset="0.3"/>
<line x1="285.0" y1="291.5" x2="285.0" y2="376.5" stroke="#f95a5e" stroke-width="1.05" stroke-dasharray="2.0 1.5"/>
<path d="M285 287.9 L282.9 291.9 L287.1 291.9Z" fill="#f95a5e"/>
<path d="M285 380.6 L282.9 376.6 L287.1 376.6Z" fill="#f95a5e"/>
<line x1="325.0" y1="284.5" x2="325.0" y2="376.5" stroke="#0a68a8" stroke-width="1.05" stroke-dasharray="2.0 1.5"/>
<path d="M325 280.8 L322.9 284.8 L327.1 284.8Z" fill="#0a68a8"/>
<path d="M325 380.3 L322.9 376.3 L327.1 376.3Z" fill="#0a68a8"/>
<line x1="254.4" y1="224.4" x2="439.4" y2="224.4" stroke="#8a8a8a" stroke-width="0.9"/>
<line x1="254.4" y1="395" x2="439.4" y2="395" stroke="#8a8a8a" stroke-width="0.9"/>
<line x1="254.4" y1="224.4" x2="254.4" y2="395" stroke="#8a8a8a" stroke-width="0.9"/>
<line x1="439.4" y1="224.4" x2="439.4" y2="395" stroke="#8a8a8a" stroke-width="0.9"/>
<line x1="280.8" y1="395" x2="280.8" y2="393" stroke="#8a8a8a" stroke-width="0.8"/>
<line x1="280.8" y1="224.4" x2="280.8" y2="226.4" stroke="#8a8a8a" stroke-width="0.8"/>
<line x1="307.3" y1="395" x2="307.3" y2="393" stroke="#8a8a8a" stroke-width="0.8"/>
<line x1="307.3" y1="224.4" x2="307.3" y2="226.4" stroke="#8a8a8a" stroke-width="0.8"/>
<line x1="333.8" y1="395" x2="333.8" y2="393" stroke="#8a8a8a" stroke-width="0.8"/>
<line x1="333.8" y1="224.4" x2="333.8" y2="226.4" stroke="#8a8a8a" stroke-width="0.8"/>
<line x1="360.3" y1="395" x2="360.3" y2="393" stroke="#8a8a8a" stroke-width="0.8"/>
<line x1="360.3" y1="224.4" x2="360.3" y2="226.4" stroke="#8a8a8a" stroke-width="0.8"/>
<line x1="386.8" y1="395" x2="386.8" y2="393" stroke="#8a8a8a" stroke-width="0.8"/>
<line x1="386.8" y1="224.4" x2="386.8" y2="226.4" stroke="#8a8a8a" stroke-width="0.8"/>
<line x1="413.3" y1="395" x2="413.3" y2="393" stroke="#8a8a8a" stroke-width="0.8"/>
<line x1="413.3" y1="224.4" x2="413.3" y2="226.4" stroke="#8a8a8a" stroke-width="0.8"/>
<line x1="254.4" y1="243.3" x2="256.4" y2="243.3" stroke="#8a8a8a" stroke-width="0.8"/>
<line x1="439.4" y1="243.3" x2="437.4" y2="243.3" stroke="#8a8a8a" stroke-width="0.8"/>
<line x1="254.4" y1="262.21" x2="256.4" y2="262.21" stroke="#8a8a8a" stroke-width="0.8"/>
<line x1="439.4" y1="262.21" x2="437.4" y2="262.21" stroke="#8a8a8a" stroke-width="0.8"/>
<line x1="254.4" y1="281.12" x2="256.4" y2="281.12" stroke="#8a8a8a" stroke-width="0.8"/>
<line x1="439.4" y1="281.12" x2="437.4" y2="281.12" stroke="#8a8a8a" stroke-width="0.8"/>
<line x1="254.4" y1="300.04" x2="256.4" y2="300.04" stroke="#8a8a8a" stroke-width="0.8"/>
<line x1="439.4" y1="300.04" x2="437.4" y2="300.04" stroke="#8a8a8a" stroke-width="0.8"/>
<line x1="254.4" y1="318.95" x2="256.4" y2="318.95" stroke="#8a8a8a" stroke-width="0.8"/>
<line x1="439.4" y1="318.95" x2="437.4" y2="318.95" stroke="#8a8a8a" stroke-width="0.8"/>
<line x1="254.4" y1="337.86" x2="256.4" y2="337.86" stroke="#8a8a8a" stroke-width="0.8"/>
<line x1="439.4" y1="337.86" x2="437.4" y2="337.86" stroke="#8a8a8a" stroke-width="0.8"/>
<line x1="254.4" y1="356.77" x2="256.4" y2="356.77" stroke="#8a8a8a" stroke-width="0.8"/>
<line x1="439.4" y1="356.77" x2="437.4" y2="356.77" stroke="#8a8a8a" stroke-width="0.8"/>
<line x1="254.4" y1="375.68" x2="256.4" y2="375.68" stroke="#8a8a8a" stroke-width="0.8"/>
<line x1="439.4" y1="375.68" x2="437.4" y2="375.68" stroke="#8a8a8a" stroke-width="0.8"/>
<text x="252.1" y="226.89" font-size="7.1" text-anchor="end" fill="#2b2b2b" stroke="#2b2b2b" stroke-width="0.2" font-weight="normal">20</text>
<text x="252.1" y="245.8" font-size="7.1" text-anchor="end" fill="#2b2b2b" stroke="#2b2b2b" stroke-width="0.2" font-weight="normal">0</text>
<text x="252.1" y="264.71" font-size="7.1" text-anchor="end" fill="#2b2b2b" stroke="#2b2b2b" stroke-width="0.2" font-weight="normal">−20</text>
<text x="252.1" y="283.62" font-size="7.1" text-anchor="end" fill="#2b2b2b" stroke="#2b2b2b" stroke-width="0.2" font-weight="normal">−40</text>
<text x="252.1" y="302.54" font-size="7.1" text-anchor="end" fill="#2b2b2b" stroke="#2b2b2b" stroke-width="0.2" font-weight="normal">−60</text>
<text x="252.1" y="321.45" font-size="7.1" text-anchor="end" fill="#2b2b2b" stroke="#2b2b2b" stroke-width="0.2" font-weight="normal">−80</text>
<text x="252.1" y="340.36" font-size="7.1" text-anchor="end" fill="#2b2b2b" stroke="#2b2b2b" stroke-width="0.2" font-weight="normal">−100</text>
<text x="252.1" y="359.27" font-size="7.1" text-anchor="end" fill="#2b2b2b" stroke="#2b2b2b" stroke-width="0.2" font-weight="normal">−120</text>
<text x="252.1" y="378.18" font-size="7.1" text-anchor="end" fill="#2b2b2b" stroke="#2b2b2b" stroke-width="0.2" font-weight="normal">−140</text>
<text x="252.1" y="397.1" font-size="7.1" text-anchor="end" fill="#2b2b2b" stroke="#2b2b2b" stroke-width="0.2" font-weight="normal">−160</text>
<text x="254.3" y="402.6" font-size="6.8" text-anchor="middle" fill="#2b2b2b" stroke="#2b2b2b" stroke-width="0.2" font-weight="normal">−40</text>
<text x="307.3" y="402.6" font-size="6.8" text-anchor="middle" fill="#2b2b2b" stroke="#2b2b2b" stroke-width="0.2" font-weight="normal">−20</text>
<text x="360.3" y="402.6" font-size="6.8" text-anchor="middle" fill="#2b2b2b" stroke="#2b2b2b" stroke-width="0.2" font-weight="normal">0</text>
<text x="413.3" y="402.6" font-size="6.8" text-anchor="middle" fill="#2b2b2b" stroke="#2b2b2b" stroke-width="0.2" font-weight="normal">20</text>
<text x="344.8" y="415" font-size="8.55" text-anchor="middle" fill="#1a1a1a" stroke="#1a1a1a" stroke-width="0.25" font-weight="normal">RF input power (dBm)</text>
<text x="234.3" y="311.6" font-size="8.55" text-anchor="middle" fill="#1a1a1a" stroke="#1a1a1a" stroke-width="0.25" font-weight="normal" transform="rotate(-90 234.3 311.6)">RF output power (dBm)</text>
<text x="281.2" y="335.2" font-size="8.55" text-anchor="middle" fill="#1a1a1a" stroke="#1a1a1a" stroke-width="0.25" font-weight="normal" transform="rotate(-90 281.2 335.2)">101 dB in 1 Hz</text>
<text x="321.6" y="313.2" font-size="8.55" text-anchor="middle" fill="#1a1a1a" stroke="#1a1a1a" stroke-width="0.25" font-weight="normal" transform="rotate(-90 321.6 313.2)">110 dB in 1 Hz</text>
<text x="385.5" y="378.4" font-size="8.55" text-anchor="middle" fill="#1a1a1a" stroke="#1a1a1a" stroke-width="0.25" font-weight="normal">Noise PSD = -146.5 dB/Hz</text>
<rect x="260.1" y="229" width="81.3" height="19" fill="#fff" stroke="#b4b4b4" stroke-width="0.8"/>
<line x1="261.3" y1="234.4" x2="275" y2="234.4" stroke="#f47070" stroke-width="1.3"/>
<text x="276.6" y="236.9" font-size="6.95" text-anchor="start" fill="#111" stroke="#111" stroke-width="0.24" font-weight="normal">Without linearization</text>
<line x1="261.3" y1="243.5" x2="275" y2="243.5" stroke="#0a68a8" stroke-width="1.3"/>
<text x="276.6" y="246" font-size="6.95" text-anchor="start" fill="#111" stroke="#111" stroke-width="0.24" font-weight="normal">With linearization</text>
<text x="452" y="225" font-size="14" font-weight="bold" fill="#000" stroke="#000" stroke-width="0.35">e</text>
<path d="M500.99 329.2 L544.38 342.3 L576.92 342.3 L642.01 329.2" stroke="#e8807a" stroke-width="1.35" fill="none"/>
<rect x="499.19" y="327.4" width="3.6" height="3.6" fill="#e8807a"/>
<rect x="542.58" y="340.5" width="3.6" height="3.6" fill="#e8807a"/>
<rect x="575.12" y="340.5" width="3.6" height="3.6" fill="#e8807a"/>
<rect x="640.21" y="327.4" width="3.6" height="3.6" fill="#e8807a"/>
<path d="M500.99 276.8 L544.38 285.97 L576.92 279.42 L642.01 276.8" stroke="#006aa0" stroke-width="1.35" fill="none"/>
<circle cx="500.99" cy="276.8" r="2.1" fill="#006aa0"/>
<circle cx="544.38" cy="285.97" r="2.1" fill="#006aa0"/>
<circle cx="576.92" cy="279.42" r="2.1" fill="#006aa0"/>
<circle cx="642.01" cy="276.8" r="2.1" fill="#006aa0"/>
<line x1="479.3" y1="224.4" x2="663.7" y2="224.4" stroke="#6a6a6a" stroke-width="0.9"/>
<line x1="479.3" y1="395" x2="663.7" y2="395" stroke="#8a8a8a" stroke-width="0.9"/>
<line x1="479.3" y1="224.4" x2="479.3" y2="395" stroke="#5f9fcf" stroke-width="0.9"/>
<line x1="663.7" y1="224.4" x2="663.7" y2="395" stroke="#f5c4c2" stroke-width="0.9"/>
<line x1="490.15" y1="395" x2="490.15" y2="393" stroke="#8a8a8a" stroke-width="0.8"/>
<line x1="490.15" y1="224.4" x2="490.15" y2="226.4" stroke="#8a8a8a" stroke-width="0.8"/>
<line x1="511.84" y1="395" x2="511.84" y2="393" stroke="#8a8a8a" stroke-width="0.8"/>
<line x1="511.84" y1="224.4" x2="511.84" y2="226.4" stroke="#8a8a8a" stroke-width="0.8"/>
<line x1="533.54" y1="395" x2="533.54" y2="393" stroke="#8a8a8a" stroke-width="0.8"/>
<line x1="533.54" y1="224.4" x2="533.54" y2="226.4" stroke="#8a8a8a" stroke-width="0.8"/>
<line x1="555.23" y1="395" x2="555.23" y2="393" stroke="#8a8a8a" stroke-width="0.8"/>
<line x1="555.23" y1="224.4" x2="555.23" y2="226.4" stroke="#8a8a8a" stroke-width="0.8"/>
<line x1="576.92" y1="395" x2="576.92" y2="393" stroke="#8a8a8a" stroke-width="0.8"/>
<line x1="576.92" y1="224.4" x2="576.92" y2="226.4" stroke="#8a8a8a" stroke-width="0.8"/>
<line x1="598.62" y1="395" x2="598.62" y2="393" stroke="#8a8a8a" stroke-width="0.8"/>
<line x1="598.62" y1="224.4" x2="598.62" y2="226.4" stroke="#8a8a8a" stroke-width="0.8"/>
<line x1="620.31" y1="395" x2="620.31" y2="393" stroke="#8a8a8a" stroke-width="0.8"/>
<line x1="620.31" y1="224.4" x2="620.31" y2="226.4" stroke="#8a8a8a" stroke-width="0.8"/>
<line x1="642.01" y1="395" x2="642.01" y2="393" stroke="#8a8a8a" stroke-width="0.8"/>
<line x1="642.01" y1="224.4" x2="642.01" y2="226.4" stroke="#8a8a8a" stroke-width="0.8"/>
<line x1="663.7" y1="395" x2="663.7" y2="393" stroke="#8a8a8a" stroke-width="0.8"/>
<line x1="663.7" y1="224.4" x2="663.7" y2="226.4" stroke="#8a8a8a" stroke-width="0.8"/>
<line x1="479.3" y1="381.6" x2="481.3" y2="381.6" stroke="#5f9fcf" stroke-width="0.8"/>
<text x="476.8" y="384" font-size="6.8" text-anchor="end" fill="#1f78b4" stroke="#1f78b4" stroke-width="0.2" font-weight="normal">102</text>
<line x1="479.3" y1="355.4" x2="481.3" y2="355.4" stroke="#5f9fcf" stroke-width="0.8"/>
<text x="476.8" y="357.8" font-size="6.8" text-anchor="end" fill="#1f78b4" stroke="#1f78b4" stroke-width="0.2" font-weight="normal">104</text>
<line x1="479.3" y1="329.2" x2="481.3" y2="329.2" stroke="#5f9fcf" stroke-width="0.8"/>
<text x="476.8" y="331.6" font-size="6.8" text-anchor="end" fill="#1f78b4" stroke="#1f78b4" stroke-width="0.2" font-weight="normal">106</text>
<line x1="479.3" y1="303" x2="481.3" y2="303" stroke="#5f9fcf" stroke-width="0.8"/>
<text x="476.8" y="305.4" font-size="6.8" text-anchor="end" fill="#1f78b4" stroke="#1f78b4" stroke-width="0.2" font-weight="normal">108</text>
<line x1="479.3" y1="276.8" x2="481.3" y2="276.8" stroke="#5f9fcf" stroke-width="0.8"/>
<text x="476.8" y="279.2" font-size="6.8" text-anchor="end" fill="#1f78b4" stroke="#1f78b4" stroke-width="0.2" font-weight="normal">110</text>
<line x1="479.3" y1="250.6" x2="481.3" y2="250.6" stroke="#5f9fcf" stroke-width="0.8"/>
<text x="476.8" y="253" font-size="6.8" text-anchor="end" fill="#1f78b4" stroke="#1f78b4" stroke-width="0.2" font-weight="normal">112</text>
<line x1="479.3" y1="224.4" x2="481.3" y2="224.4" stroke="#5f9fcf" stroke-width="0.8"/>
<text x="476.8" y="226.8" font-size="6.8" text-anchor="end" fill="#1f78b4" stroke="#1f78b4" stroke-width="0.2" font-weight="normal">114</text>
<line x1="663.7" y1="381.6" x2="661.7" y2="381.6" stroke="#f5c4c2" stroke-width="0.8"/>
<text x="666.2" y="384" font-size="6.8" text-anchor="start" fill="#f09e99" stroke="#f09e99" stroke-width="0.2" font-weight="normal">30</text>
<line x1="663.7" y1="355.4" x2="661.7" y2="355.4" stroke="#f5c4c2" stroke-width="0.8"/>
<text x="666.2" y="357.8" font-size="6.8" text-anchor="start" fill="#f09e99" stroke="#f09e99" stroke-width="0.2" font-weight="normal">32</text>
<line x1="663.7" y1="329.2" x2="661.7" y2="329.2" stroke="#f5c4c2" stroke-width="0.8"/>
<text x="666.2" y="331.6" font-size="6.8" text-anchor="start" fill="#f09e99" stroke="#f09e99" stroke-width="0.2" font-weight="normal">34</text>
<line x1="663.7" y1="303" x2="661.7" y2="303" stroke="#f5c4c2" stroke-width="0.8"/>
<text x="666.2" y="305.4" font-size="6.8" text-anchor="start" fill="#f09e99" stroke="#f09e99" stroke-width="0.2" font-weight="normal">36</text>
<line x1="663.7" y1="276.8" x2="661.7" y2="276.8" stroke="#f5c4c2" stroke-width="0.8"/>
<text x="666.2" y="279.2" font-size="6.8" text-anchor="start" fill="#f09e99" stroke="#f09e99" stroke-width="0.2" font-weight="normal">38</text>
<line x1="663.7" y1="250.6" x2="661.7" y2="250.6" stroke="#f5c4c2" stroke-width="0.8"/>
<text x="666.2" y="253" font-size="6.8" text-anchor="start" fill="#f09e99" stroke="#f09e99" stroke-width="0.2" font-weight="normal">40</text>
<line x1="663.7" y1="224.4" x2="661.7" y2="224.4" stroke="#f5c4c2" stroke-width="0.8"/>
<text x="666.2" y="226.8" font-size="6.8" text-anchor="start" fill="#f09e99" stroke="#f09e99" stroke-width="0.2" font-weight="normal">42</text>
<text x="490.15" y="402.8" font-size="6.8" text-anchor="middle" fill="#2b2b2b" stroke="#2b2b2b" stroke-width="0.2" font-weight="normal">4</text>
<text x="511.84" y="402.8" font-size="6.8" text-anchor="middle" fill="#2b2b2b" stroke="#2b2b2b" stroke-width="0.2" font-weight="normal">6</text>
<text x="533.54" y="402.8" font-size="6.8" text-anchor="middle" fill="#2b2b2b" stroke="#2b2b2b" stroke-width="0.2" font-weight="normal">8</text>
<text x="555.23" y="402.8" font-size="6.8" text-anchor="middle" fill="#2b2b2b" stroke="#2b2b2b" stroke-width="0.2" font-weight="normal">10</text>
<text x="576.92" y="402.8" font-size="6.8" text-anchor="middle" fill="#2b2b2b" stroke="#2b2b2b" stroke-width="0.2" font-weight="normal">12</text>
<text x="598.62" y="402.8" font-size="6.8" text-anchor="middle" fill="#2b2b2b" stroke="#2b2b2b" stroke-width="0.2" font-weight="normal">14</text>
<text x="620.31" y="402.8" font-size="6.8" text-anchor="middle" fill="#2b2b2b" stroke="#2b2b2b" stroke-width="0.2" font-weight="normal">16</text>
<text x="642.01" y="402.8" font-size="6.8" text-anchor="middle" fill="#2b2b2b" stroke="#2b2b2b" stroke-width="0.2" font-weight="normal">18</text>
<text x="663.7" y="402.8" font-size="6.8" text-anchor="middle" fill="#2b2b2b" stroke="#2b2b2b" stroke-width="0.2" font-weight="normal">20</text>
<text x="570" y="415.6" font-size="8.55" text-anchor="middle" fill="#1a1a1a" stroke="#1a1a1a" stroke-width="0.25" font-weight="normal">Frequency (GHz)</text>
<text x="462" y="309.8" font-size="8.55" text-anchor="middle" fill="#1f78b4" stroke="#1f78b4" stroke-width="0.25" font-weight="normal" transform="rotate(-90 462 309.8)">SFDR (dB in 1 Hz)</text>
<text x="683.5" y="310.3" font-size="8.55" text-anchor="middle" fill="#f09e99" stroke="#f09e99" stroke-width="0.25" font-weight="normal" transform="rotate(-90 683.5 310.3)">IMD 3 suppression (dB)</text>
<rect x="486.1" y="229" width="77.4" height="19" fill="#fff" stroke="#b4b4b4" stroke-width="0.8"/>
<line x1="487.3" y1="234.4" x2="501" y2="234.4" stroke="#e8807a" stroke-width="1.3"/>
<text x="502.6" y="236.9" font-size="6.95" text-anchor="start" fill="#111" stroke="#111" stroke-width="0.24" font-weight="normal">IMD 3 suppression</text>
<line x1="487.3" y1="243.5" x2="501" y2="243.5" stroke="#006aa0" stroke-width="1.3"/>
<text x="502.6" y="246" font-size="6.95" text-anchor="start" fill="#111" stroke="#111" stroke-width="0.24" font-weight="normal">SFDR</text>
</svg>
</body></html>
